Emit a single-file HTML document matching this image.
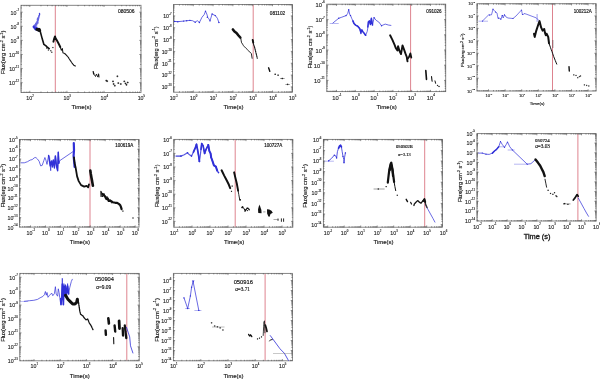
<!DOCTYPE html>
<html><head><meta charset="utf-8"><style>
html,body{margin:0;padding:0;background:#fff;overflow:hidden;width:600px;height:379px;}
svg{display:block;filter:blur(0.35px);}
.b{stroke:#222;stroke-width:0.15px;}
.t{stroke:#333;stroke-width:0.14px;}
.n{stroke:#111;stroke-width:0.15px;}
</style></head><body>
<svg width="600" height="379" viewBox="0 0 600 379" font-family="'Liberation Sans', sans-serif">
<rect width="600" height="379" fill="#fff"/>
<line x1="55.3" y1="5.3" x2="55.3" y2="92.5" stroke="#d05060" stroke-width="1.0" opacity="0.7"/>
<rect x="21" y="5.3" width="120" height="87.2" fill="none" stroke="#7a7a7a" stroke-width="0.9"/>
<path d="M21.57 92.8v-1.3M21.57 5v1.3M24.05 92.8v-1.3M24.05 5v1.3M26.2 92.8v-1.3M26.2 5v1.3M28.1 92.8v-1.3M28.1 5v1.3M29.8 92.8v-2.0M29.8 5v2.0M40.97 92.8v-1.3M40.97 5v1.3M47.5 92.8v-1.3M47.5 5v1.3M52.14 92.8v-1.3M52.14 5v1.3M55.73 92.8v-1.3M55.73 5v1.3M58.67 92.8v-1.3M58.67 5v1.3M61.15 92.8v-1.3M61.15 5v1.3M63.3 92.8v-1.3M63.3 5v1.3M65.2 92.8v-1.3M65.2 5v1.3M66.9 92.8v-2.0M66.9 5v2.0M78.07 92.8v-1.3M78.07 5v1.3M84.6 92.8v-1.3M84.6 5v1.3M89.24 92.8v-1.3M89.24 5v1.3M92.83 92.8v-1.3M92.83 5v1.3M95.77 92.8v-1.3M95.77 5v1.3M98.25 92.8v-1.3M98.25 5v1.3M100.4 92.8v-1.3M100.4 5v1.3M102.3 92.8v-1.3M102.3 5v1.3M104 92.8v-2.0M104 5v2.0M115.17 92.8v-1.3M115.17 5v1.3M121.7 92.8v-1.3M121.7 5v1.3M126.34 92.8v-1.3M126.34 5v1.3M129.93 92.8v-1.3M129.93 5v1.3M132.87 92.8v-1.3M132.87 5v1.3M135.35 92.8v-1.3M135.35 5v1.3M137.5 92.8v-1.3M137.5 5v1.3M139.4 92.8v-1.3M139.4 5v1.3M20.7 90.07h1.3M141.3 90.07h-1.3M20.7 88.31h1.3M141.3 88.31h-1.3M20.7 86.94h1.3M141.3 86.94h-1.3M20.7 85.83h1.3M141.3 85.83h-1.3M20.7 84.88h1.3M141.3 84.88h-1.3M20.7 84.07h1.3M141.3 84.07h-1.3M20.7 83.35h1.3M141.3 83.35h-1.3M20.7 82.7h2.0M141.3 82.7h-2.0M20.7 78.46h1.3M141.3 78.46h-1.3M20.7 75.97h1.3M141.3 75.97h-1.3M20.7 74.21h1.3M141.3 74.21h-1.3M20.7 72.84h1.3M141.3 72.84h-1.3M20.7 71.73h1.3M141.3 71.73h-1.3M20.7 70.78h1.3M141.3 70.78h-1.3M20.7 69.97h1.3M141.3 69.97h-1.3M20.7 69.25h1.3M141.3 69.25h-1.3M20.7 68.6h2.0M141.3 68.6h-2.0M20.7 64.36h1.3M141.3 64.36h-1.3M20.7 61.87h1.3M141.3 61.87h-1.3M20.7 60.11h1.3M141.3 60.11h-1.3M20.7 58.74h1.3M141.3 58.74h-1.3M20.7 57.63h1.3M141.3 57.63h-1.3M20.7 56.68h1.3M141.3 56.68h-1.3M20.7 55.87h1.3M141.3 55.87h-1.3M20.7 55.15h1.3M141.3 55.15h-1.3M20.7 54.5h2.0M141.3 54.5h-2.0M20.7 50.26h1.3M141.3 50.26h-1.3M20.7 47.77h1.3M141.3 47.77h-1.3M20.7 46.01h1.3M141.3 46.01h-1.3M20.7 44.64h1.3M141.3 44.64h-1.3M20.7 43.53h1.3M141.3 43.53h-1.3M20.7 42.58h1.3M141.3 42.58h-1.3M20.7 41.77h1.3M141.3 41.77h-1.3M20.7 41.05h1.3M141.3 41.05h-1.3M20.7 40.4h2.0M141.3 40.4h-2.0M20.7 36.16h1.3M141.3 36.16h-1.3M20.7 33.67h1.3M141.3 33.67h-1.3M20.7 31.91h1.3M141.3 31.91h-1.3M20.7 30.54h1.3M141.3 30.54h-1.3M20.7 29.43h1.3M141.3 29.43h-1.3M20.7 28.48h1.3M141.3 28.48h-1.3M20.7 27.67h1.3M141.3 27.67h-1.3M20.7 26.95h1.3M141.3 26.95h-1.3M20.7 26.3h2.0M141.3 26.3h-2.0M20.7 22.06h1.3M141.3 22.06h-1.3M20.7 19.57h1.3M141.3 19.57h-1.3M20.7 17.81h1.3M141.3 17.81h-1.3M20.7 16.44h1.3M141.3 16.44h-1.3M20.7 15.33h1.3M141.3 15.33h-1.3M20.7 14.38h1.3M141.3 14.38h-1.3M20.7 13.57h1.3M141.3 13.57h-1.3M20.7 12.85h1.3M141.3 12.85h-1.3M20.7 12.2h2.0M141.3 12.2h-2.0M20.7 7.96h1.3M141.3 7.96h-1.3" stroke="#5a5a5a" stroke-width="0.65" fill="none"/>
<g fill="#222" font-family="'Liberation Sans', sans-serif" class="t"><text x="30.1" y="100.19" text-anchor="middle" font-size="5.3">10<tspan font-size="2.86" dy="-3.29">2</tspan></text><text x="67.2" y="100.19" text-anchor="middle" font-size="5.3">10<tspan font-size="2.86" dy="-3.29">3</tspan></text><text x="104.3" y="100.19" text-anchor="middle" font-size="5.3">10<tspan font-size="2.86" dy="-3.29">4</tspan></text><text x="141.4" y="100.19" text-anchor="middle" font-size="5.3">10<tspan font-size="2.86" dy="-3.29">5</tspan></text><text x="19" y="14.58" text-anchor="end" font-size="5.3">10<tspan font-size="2.86" dy="-3.29">-7</tspan></text><text x="19" y="28.68" text-anchor="end" font-size="5.3">10<tspan font-size="2.86" dy="-3.29">-8</tspan></text><text x="19" y="42.78" text-anchor="end" font-size="5.3">10<tspan font-size="2.86" dy="-3.29">-9</tspan></text><text x="19" y="56.88" text-anchor="end" font-size="5.3">10<tspan font-size="2.86" dy="-3.29">-10</tspan></text><text x="19" y="70.98" text-anchor="end" font-size="5.3">10<tspan font-size="2.86" dy="-3.29">-11</tspan></text><text x="19" y="85.09" text-anchor="end" font-size="5.3">10<tspan font-size="2.86" dy="-3.29">-12</tspan></text></g>
<text class="b" transform="translate(5.1,52.3) rotate(-90)" text-anchor="middle" font-size="5.8" fill="#111" font-family="'Liberation Sans', sans-serif">Flux(erg cm<tspan font-size="3.71" dy="-2.2">-2</tspan><tspan dy="2.2"> s</tspan><tspan font-size="3.71" dy="-2.2">-1</tspan><tspan dy="2.2">)</tspan></text>
<text class="b" style="" x="81.5" y="108.8" text-anchor="middle" font-size="6" fill="#111" font-family="'Liberation Sans', sans-serif">Time(s)</text>
<text x="134.6" y="13" text-anchor="end" font-size="5.0" fill="#111" font-family="'Liberation Sans', sans-serif" class="n">080506</text>
<path d="M33.5 27.4 L34.6 25.2 L35.2 27.0 L35.9 23.4 L36.6 25.0 L37.1 21.5 L37.8 23.0 L37.5 19.1 L38.3 17.5 L38.0 20.5 L39.1 15.5" stroke="#3030d8" stroke-width="1.6" fill="none" stroke-linejoin="round" stroke-linecap="round" opacity="0.75"/><path d="M39.5 13.3 L39.6 14.8" stroke="#3030d8" stroke-width="1.3" fill="none" stroke-linejoin="round" stroke-linecap="round" opacity="0.9"/><path d="M33.6 26.5 L34.5 28.0 L35.5 29.5 L36.5 27.5 L37.6 30.2" stroke="#3030d8" stroke-width="2.0" fill="none" stroke-linejoin="round" stroke-linecap="round" opacity="1"/><path d="M36.8 29.5 L38.5 29.5 L39.8 30.5" stroke="#111" stroke-width="2.8" fill="none" stroke-linejoin="round" stroke-linecap="round" opacity="1"/><ellipse cx="38.9" cy="29.8" rx="1.9" ry="2.1" fill="#111"/><path d="M38.1 29.1 L40.2 31.2 L41.3 35.4 L42.3 39.1 L43.4 42.8 L43.9 44.4 L46.0 45.9 L47.6 47.5 L49.2 48.6" stroke="#111" stroke-width="1.6" fill="none" stroke-linejoin="round" stroke-linecap="round" opacity="1"/><path d="M46.0 48.0h1.3M46.6 47.4v1.3" stroke="#111" stroke-width="0.6" opacity="1"/><path d="M50.1 50.7h1.3M50.8 50.1v1.3" stroke="#111" stroke-width="0.6" opacity="1"/><path d="M51.1 52.3h1.3M51.8 51.6v1.3" stroke="#111" stroke-width="0.6" opacity="1"/><path d="M52.2 47.5h1.3M52.9 46.9v1.3" stroke="#111" stroke-width="0.6" opacity="1"/><path d="M47.8 50.0h1.3M48.4 49.4v1.3" stroke="#111" stroke-width="0.6" opacity="1"/><path d="M53.4 41.7 L54.2 38.5 L55.0 36.4 L55.5 38.0 L57.1 40.7 L58.7 43.8 L60.3 47.0" stroke="#111" stroke-width="1.9" fill="none" stroke-linejoin="round" stroke-linecap="round" opacity="1"/><path d="M60.3 47.0 L61.3 50.2 L62.4 48.6 L62.9 52.8 L64.5 53.3 L66.1 54.9 L67.7 56.5 L69.8 59.7 L71.9 62.8 L74.0 65.5 L75.4 66.0" stroke="#111" stroke-width="1.1" fill="none" stroke-linejoin="round" stroke-linecap="round" opacity="1" stroke-dasharray="1.6 0.7"/><path d="M93.4 72.0 L94.2 74.5 L95.5 76.5 L96.5 74.0 L97.8 77.0 L99.0 74.8" stroke="#111" stroke-width="0.9" fill="none" stroke-linejoin="round" stroke-linecap="round" opacity="1" stroke-dasharray="1.6 0.7"/><path d="M93.2 71.5 L93.6 74.0" stroke="#111" stroke-width="1.2" fill="none" stroke-linejoin="round" stroke-linecap="round" opacity="1"/><path d="M98.5 74.0 L99.0 77.0" stroke="#111" stroke-width="1.0" fill="none" stroke-linejoin="round" stroke-linecap="round" opacity="1"/><path d="M105.4 80.6h1.8M106.3 79.7v1.8" stroke="#111" stroke-width="0.75" opacity="1"/><path d="M106.3 81.2h1.8M107.2 80.3v1.8" stroke="#111" stroke-width="0.75" opacity="1"/><path d="M112.1 81.4h1.8M113.0 80.5v1.8" stroke="#111" stroke-width="0.75" opacity="1"/><path d="M112.7 84.0h1.8M113.6 83.1v1.8" stroke="#111" stroke-width="0.75" opacity="1"/><path d="M113.9 85.7h1.8M114.8 84.8v1.8" stroke="#111" stroke-width="0.75" opacity="1"/><path d="M116.5 76.3h1.8M117.4 75.4v1.8" stroke="#111" stroke-width="0.75" opacity="1"/><path d="M117.4 83.1h1.8M118.3 82.2v1.8" stroke="#111" stroke-width="0.75" opacity="1"/><path d="M119.9 84.0h1.8M120.8 83.1v1.8" stroke="#111" stroke-width="0.75" opacity="1"/><path d="M123.4 81.4h1.8M124.3 80.5v1.8" stroke="#111" stroke-width="0.75" opacity="1"/><path d="M124.6 83.5h1.8M125.5 82.6v1.8" stroke="#111" stroke-width="0.75" opacity="1"/><path d="M125.6 84.8h1.8M126.5 83.9v1.8" stroke="#111" stroke-width="0.75" opacity="1"/><path d="M126.8 82.5h1.8M127.7 81.6v1.8" stroke="#111" stroke-width="0.75" opacity="1"/>
<line x1="253.2" y1="4.5" x2="253.2" y2="92.2" stroke="#d05060" stroke-width="1.0" opacity="0.7"/>
<rect x="173.5" y="4.5" width="119" height="87.7" fill="none" stroke="#7a7a7a" stroke-width="0.9"/>
<path d="M179.46 92.5v-1.3M179.46 4.2v1.3M182.95 92.5v-1.3M182.95 4.2v1.3M185.42 92.5v-1.3M185.42 4.2v1.3M187.34 92.5v-1.3M187.34 4.2v1.3M188.91 92.5v-1.3M188.91 4.2v1.3M190.23 92.5v-1.3M190.23 4.2v1.3M191.38 92.5v-1.3M191.38 4.2v1.3M192.39 92.5v-1.3M192.39 4.2v1.3M193.3 92.5v-2.0M193.3 4.2v2.0M199.26 92.5v-1.3M199.26 4.2v1.3M202.75 92.5v-1.3M202.75 4.2v1.3M205.22 92.5v-1.3M205.22 4.2v1.3M207.14 92.5v-1.3M207.14 4.2v1.3M208.71 92.5v-1.3M208.71 4.2v1.3M210.03 92.5v-1.3M210.03 4.2v1.3M211.18 92.5v-1.3M211.18 4.2v1.3M212.19 92.5v-1.3M212.19 4.2v1.3M213.1 92.5v-2.0M213.1 4.2v2.0M219.06 92.5v-1.3M219.06 4.2v1.3M222.55 92.5v-1.3M222.55 4.2v1.3M225.02 92.5v-1.3M225.02 4.2v1.3M226.94 92.5v-1.3M226.94 4.2v1.3M228.51 92.5v-1.3M228.51 4.2v1.3M229.83 92.5v-1.3M229.83 4.2v1.3M230.98 92.5v-1.3M230.98 4.2v1.3M231.99 92.5v-1.3M231.99 4.2v1.3M232.9 92.5v-2.0M232.9 4.2v2.0M238.86 92.5v-1.3M238.86 4.2v1.3M242.35 92.5v-1.3M242.35 4.2v1.3M244.82 92.5v-1.3M244.82 4.2v1.3M246.74 92.5v-1.3M246.74 4.2v1.3M248.31 92.5v-1.3M248.31 4.2v1.3M249.63 92.5v-1.3M249.63 4.2v1.3M250.78 92.5v-1.3M250.78 4.2v1.3M251.79 92.5v-1.3M251.79 4.2v1.3M252.7 92.5v-2.0M252.7 4.2v2.0M258.66 92.5v-1.3M258.66 4.2v1.3M262.15 92.5v-1.3M262.15 4.2v1.3M264.62 92.5v-1.3M264.62 4.2v1.3M266.54 92.5v-1.3M266.54 4.2v1.3M268.11 92.5v-1.3M268.11 4.2v1.3M269.43 92.5v-1.3M269.43 4.2v1.3M270.58 92.5v-1.3M270.58 4.2v1.3M271.59 92.5v-1.3M271.59 4.2v1.3M272.5 92.5v-2.0M272.5 4.2v2.0M278.46 92.5v-1.3M278.46 4.2v1.3M281.95 92.5v-1.3M281.95 4.2v1.3M284.42 92.5v-1.3M284.42 4.2v1.3M286.34 92.5v-1.3M286.34 4.2v1.3M287.91 92.5v-1.3M287.91 4.2v1.3M289.23 92.5v-1.3M289.23 4.2v1.3M290.38 92.5v-1.3M290.38 4.2v1.3M291.39 92.5v-1.3M291.39 4.2v1.3M173.2 91.59h1.3M292.8 91.59h-1.3M173.2 90.44h1.3M292.8 90.44h-1.3M173.2 89.5h1.3M292.8 89.5h-1.3M173.2 88.71h1.3M292.8 88.71h-1.3M173.2 88.03h1.3M292.8 88.03h-1.3M173.2 87.42h1.3M292.8 87.42h-1.3M173.2 86.88h2.0M292.8 86.88h-2.0M173.2 83.32h1.3M292.8 83.32h-1.3M173.2 81.24h1.3M292.8 81.24h-1.3M173.2 79.76h1.3M292.8 79.76h-1.3M173.2 78.61h1.3M292.8 78.61h-1.3M173.2 77.67h1.3M292.8 77.67h-1.3M173.2 76.88h1.3M292.8 76.88h-1.3M173.2 76.2h1.3M292.8 76.2h-1.3M173.2 75.59h1.3M292.8 75.59h-1.3M173.2 75.05h2.0M292.8 75.05h-2.0M173.2 71.49h1.3M292.8 71.49h-1.3M173.2 69.41h1.3M292.8 69.41h-1.3M173.2 67.93h1.3M292.8 67.93h-1.3M173.2 66.78h1.3M292.8 66.78h-1.3M173.2 65.84h1.3M292.8 65.84h-1.3M173.2 65.05h1.3M292.8 65.05h-1.3M173.2 64.37h1.3M292.8 64.37h-1.3M173.2 63.76h1.3M292.8 63.76h-1.3M173.2 63.22h2.0M292.8 63.22h-2.0M173.2 59.66h1.3M292.8 59.66h-1.3M173.2 57.58h1.3M292.8 57.58h-1.3M173.2 56.1h1.3M292.8 56.1h-1.3M173.2 54.95h1.3M292.8 54.95h-1.3M173.2 54.01h1.3M292.8 54.01h-1.3M173.2 53.22h1.3M292.8 53.22h-1.3M173.2 52.54h1.3M292.8 52.54h-1.3M173.2 51.93h1.3M292.8 51.93h-1.3M173.2 51.39h2.0M292.8 51.39h-2.0M173.2 47.83h1.3M292.8 47.83h-1.3M173.2 45.75h1.3M292.8 45.75h-1.3M173.2 44.27h1.3M292.8 44.27h-1.3M173.2 43.12h1.3M292.8 43.12h-1.3M173.2 42.18h1.3M292.8 42.18h-1.3M173.2 41.39h1.3M292.8 41.39h-1.3M173.2 40.71h1.3M292.8 40.71h-1.3M173.2 40.1h1.3M292.8 40.1h-1.3M173.2 39.56h2.0M292.8 39.56h-2.0M173.2 36h1.3M292.8 36h-1.3M173.2 33.92h1.3M292.8 33.92h-1.3M173.2 32.44h1.3M292.8 32.44h-1.3M173.2 31.29h1.3M292.8 31.29h-1.3M173.2 30.35h1.3M292.8 30.35h-1.3M173.2 29.56h1.3M292.8 29.56h-1.3M173.2 28.88h1.3M292.8 28.88h-1.3M173.2 28.27h1.3M292.8 28.27h-1.3M173.2 27.73h2.0M292.8 27.73h-2.0M173.2 24.17h1.3M292.8 24.17h-1.3M173.2 22.09h1.3M292.8 22.09h-1.3M173.2 20.61h1.3M292.8 20.61h-1.3M173.2 19.46h1.3M292.8 19.46h-1.3M173.2 18.52h1.3M292.8 18.52h-1.3M173.2 17.73h1.3M292.8 17.73h-1.3M173.2 17.05h1.3M292.8 17.05h-1.3M173.2 16.44h1.3M292.8 16.44h-1.3M173.2 15.9h2.0M292.8 15.9h-2.0M173.2 12.34h1.3M292.8 12.34h-1.3M173.2 10.26h1.3M292.8 10.26h-1.3M173.2 8.78h1.3M292.8 8.78h-1.3M173.2 7.63h1.3M292.8 7.63h-1.3M173.2 6.69h1.3M292.8 6.69h-1.3M173.2 5.9h1.3M292.8 5.9h-1.3M173.2 5.22h1.3M292.8 5.22h-1.3" stroke="#5a5a5a" stroke-width="0.65" fill="none"/>
<g fill="#222" font-family="'Liberation Sans', sans-serif" class="t"><text x="173.8" y="99.74" text-anchor="middle" font-size="5.2">10<tspan font-size="2.81" dy="-3.22">-1</tspan></text><text x="193.6" y="99.74" text-anchor="middle" font-size="5.2">10<tspan font-size="2.81" dy="-3.22">0</tspan></text><text x="213.4" y="99.74" text-anchor="middle" font-size="5.2">10<tspan font-size="2.81" dy="-3.22">1</tspan></text><text x="233.2" y="99.74" text-anchor="middle" font-size="5.2">10<tspan font-size="2.81" dy="-3.22">2</tspan></text><text x="253" y="99.74" text-anchor="middle" font-size="5.2">10<tspan font-size="2.81" dy="-3.22">3</tspan></text><text x="272.8" y="99.74" text-anchor="middle" font-size="5.2">10<tspan font-size="2.81" dy="-3.22">4</tspan></text><text x="292.6" y="99.74" text-anchor="middle" font-size="5.2">10<tspan font-size="2.81" dy="-3.22">5</tspan></text><text x="171.5" y="18.24" text-anchor="end" font-size="5.2">10<tspan font-size="2.81" dy="-3.22">-7</tspan></text><text x="171.5" y="30.07" text-anchor="end" font-size="5.2">10<tspan font-size="2.81" dy="-3.22">-8</tspan></text><text x="171.5" y="41.9" text-anchor="end" font-size="5.2">10<tspan font-size="2.81" dy="-3.22">-9</tspan></text><text x="171.5" y="53.73" text-anchor="end" font-size="5.2">10<tspan font-size="2.81" dy="-3.22">-10</tspan></text><text x="171.5" y="65.56" text-anchor="end" font-size="5.2">10<tspan font-size="2.81" dy="-3.22">-11</tspan></text><text x="171.5" y="77.39" text-anchor="end" font-size="5.2">10<tspan font-size="2.81" dy="-3.22">-12</tspan></text><text x="171.5" y="89.22" text-anchor="end" font-size="5.2">10<tspan font-size="2.81" dy="-3.22">-13</tspan></text></g>
<text class="b" transform="translate(157.6,47.75) rotate(-90)" text-anchor="middle" font-size="5.7" fill="#111" font-family="'Liberation Sans', sans-serif">Flux(erg cm<tspan font-size="3.65" dy="-2.17">-2</tspan><tspan dy="2.17"> s</tspan><tspan font-size="3.65" dy="-2.17">-1</tspan><tspan dy="2.17">)</tspan></text>
<text class="b" style="" x="233.5" y="108.5" text-anchor="middle" font-size="6" fill="#111" font-family="'Liberation Sans', sans-serif">Time(s)</text>
<text x="285.1" y="14.8" text-anchor="end" font-size="4.7" fill="#111" font-family="'Liberation Sans', sans-serif" class="n">081102</text>
<path d="M174.6 21.4 L177.8 21.7 L183.6 21.1 L186.7 20.7 L189.9 20.4 L192.5 20.7 L195.2 22.2 L197.3 20.7 L199.4 22.5 L202.0 17.2 L204.2 14.6 L205.5 11.2 L206.8 14.0 L207.9 17.7 L208.9 18.8 L210.0 20.9 L212.1 14.0 L215.3 15.6 L217.4 18.3 L218.9 22.5" stroke="#3030d8" stroke-width="0.9" fill="none" stroke-linejoin="round" stroke-linecap="round" opacity="0.8"/><circle cx="174.6" cy="21.4" r="0.7" fill="#3030d8" opacity="1"/><circle cx="177.8" cy="21.7" r="0.7" fill="#3030d8" opacity="1"/><circle cx="183.6" cy="21.1" r="0.7" fill="#3030d8" opacity="1"/><circle cx="186.7" cy="20.7" r="0.7" fill="#3030d8" opacity="1"/><circle cx="189.9" cy="20.4" r="0.7" fill="#3030d8" opacity="1"/><circle cx="195.2" cy="22.2" r="0.7" fill="#3030d8" opacity="1"/><circle cx="199.4" cy="22.5" r="0.7" fill="#3030d8" opacity="1"/><circle cx="205.5" cy="11.2" r="0.7" fill="#3030d8" opacity="1"/><circle cx="207.3" cy="17.2" r="0.7" fill="#3030d8" opacity="1"/><circle cx="210.0" cy="20.9" r="0.7" fill="#3030d8" opacity="1"/><circle cx="212.1" cy="14.0" r="0.7" fill="#3030d8" opacity="1"/><circle cx="215.3" cy="15.6" r="0.7" fill="#3030d8" opacity="1"/><circle cx="218.9" cy="22.5" r="0.7" fill="#3030d8" opacity="1"/><path d="M173.8 21.4H180.0" stroke="#3030d8" stroke-width="0.5" opacity="0.6"/><path d="M232.9 29.5 L234.5 31.5 L236.5 33.0 L238.5 35.5 L240.3 37.5" stroke="#111" stroke-width="2.6" fill="none" stroke-linejoin="round" stroke-linecap="round" opacity="1"/><path d="M240.8 38.5 L241.5 42.4 L243.5 45.7 L246.1 48.4 L248.8 51.0 L251.4 53.7 L252.1 58.3" stroke="#111" stroke-width="0.9" fill="none" stroke-linejoin="round" stroke-linecap="round" opacity="1" stroke-dasharray="1.6 0.7"/><path d="M252.7 39.8 L253.4 43.8 L254.7 47.7 L256.0 53.0 L257.3 58.3" stroke="#111" stroke-width="1.1" fill="none" stroke-linejoin="round" stroke-linecap="round" opacity="1" stroke-dasharray="1.6 0.7"/><path d="M252.6 39.8 L253.3 42.5" stroke="#111" stroke-width="1.8" fill="none" stroke-linejoin="round" stroke-linecap="round" opacity="1"/><path d="M268.6 67.8 L269.2 69.5 L269.8 71.4" stroke="#111" stroke-width="1.4" fill="none" stroke-linejoin="round" stroke-linecap="round" opacity="1"/><path d="M274.5 74.3h1.4M275.2 73.6v1.4" stroke="#111" stroke-width="0.8" opacity="1"/><path d="M277.4 75.2h1.4M278.1 74.5v1.4" stroke="#111" stroke-width="0.8" opacity="1"/><path d="M280.0 78.5H284.7" stroke="#111" stroke-width="0.5" opacity="0.8"/><path d="M281.5 78.5h1.6M282.3 77.7v1.6" stroke="#111" stroke-width="0.7" opacity="1"/><path d="M285.3 84.4H290.0" stroke="#111" stroke-width="0.5" opacity="0.8"/><path d="M286.8 84.4h1.6M287.6 83.6v1.6" stroke="#111" stroke-width="0.7" opacity="1"/>
<line x1="410.6" y1="4.2" x2="410.6" y2="91.6" stroke="#d05060" stroke-width="1.0" opacity="0.7"/>
<rect x="326.8" y="4.2" width="118.9" height="87.4" fill="none" stroke="#7a7a7a" stroke-width="0.9"/>
<path d="M329.02 91.9v-1.3M329.02 3.9v1.3M330.84 91.9v-1.3M330.84 3.9v1.3M332.33 91.9v-1.3M332.33 3.9v1.3M333.59 91.9v-1.3M333.59 3.9v1.3M334.68 91.9v-1.3M334.68 3.9v1.3M335.64 91.9v-1.3M335.64 3.9v1.3M336.5 91.9v-2.0M336.5 3.9v2.0M342.16 91.9v-1.3M342.16 3.9v1.3M345.47 91.9v-1.3M345.47 3.9v1.3M347.82 91.9v-1.3M347.82 3.9v1.3M349.64 91.9v-1.3M349.64 3.9v1.3M351.13 91.9v-1.3M351.13 3.9v1.3M352.39 91.9v-1.3M352.39 3.9v1.3M353.48 91.9v-1.3M353.48 3.9v1.3M354.44 91.9v-1.3M354.44 3.9v1.3M355.3 91.9v-2.0M355.3 3.9v2.0M360.96 91.9v-1.3M360.96 3.9v1.3M364.27 91.9v-1.3M364.27 3.9v1.3M366.62 91.9v-1.3M366.62 3.9v1.3M368.44 91.9v-1.3M368.44 3.9v1.3M369.93 91.9v-1.3M369.93 3.9v1.3M371.19 91.9v-1.3M371.19 3.9v1.3M372.28 91.9v-1.3M372.28 3.9v1.3M373.24 91.9v-1.3M373.24 3.9v1.3M374.1 91.9v-2.0M374.1 3.9v2.0M379.76 91.9v-1.3M379.76 3.9v1.3M383.07 91.9v-1.3M383.07 3.9v1.3M385.42 91.9v-1.3M385.42 3.9v1.3M387.24 91.9v-1.3M387.24 3.9v1.3M388.73 91.9v-1.3M388.73 3.9v1.3M389.99 91.9v-1.3M389.99 3.9v1.3M391.08 91.9v-1.3M391.08 3.9v1.3M392.04 91.9v-1.3M392.04 3.9v1.3M392.9 91.9v-2.0M392.9 3.9v2.0M398.56 91.9v-1.3M398.56 3.9v1.3M401.87 91.9v-1.3M401.87 3.9v1.3M404.22 91.9v-1.3M404.22 3.9v1.3M406.04 91.9v-1.3M406.04 3.9v1.3M407.53 91.9v-1.3M407.53 3.9v1.3M408.79 91.9v-1.3M408.79 3.9v1.3M409.88 91.9v-1.3M409.88 3.9v1.3M410.84 91.9v-1.3M410.84 3.9v1.3M411.7 91.9v-2.0M411.7 3.9v2.0M417.36 91.9v-1.3M417.36 3.9v1.3M420.67 91.9v-1.3M420.67 3.9v1.3M423.02 91.9v-1.3M423.02 3.9v1.3M424.84 91.9v-1.3M424.84 3.9v1.3M426.33 91.9v-1.3M426.33 3.9v1.3M427.59 91.9v-1.3M427.59 3.9v1.3M428.68 91.9v-1.3M428.68 3.9v1.3M429.64 91.9v-1.3M429.64 3.9v1.3M430.5 91.9v-2.0M430.5 3.9v2.0M436.16 91.9v-1.3M436.16 3.9v1.3M439.47 91.9v-1.3M439.47 3.9v1.3M441.82 91.9v-1.3M441.82 3.9v1.3M443.64 91.9v-1.3M443.64 3.9v1.3M445.13 91.9v-1.3M445.13 3.9v1.3M326.5 91.02h1.3M446 91.02h-1.3M326.5 88.35h1.3M446 88.35h-1.3M326.5 86.45h1.3M446 86.45h-1.3M326.5 84.98h1.3M446 84.98h-1.3M326.5 83.77h1.3M446 83.77h-1.3M326.5 82.75h1.3M446 82.75h-1.3M326.5 81.87h1.3M446 81.87h-1.3M326.5 81.1h1.3M446 81.1h-1.3M326.5 80.4h2.0M446 80.4h-2.0M326.5 75.82h1.3M446 75.82h-1.3M326.5 73.15h1.3M446 73.15h-1.3M326.5 71.25h1.3M446 71.25h-1.3M326.5 69.78h1.3M446 69.78h-1.3M326.5 68.57h1.3M446 68.57h-1.3M326.5 67.55h1.3M446 67.55h-1.3M326.5 66.67h1.3M446 66.67h-1.3M326.5 65.9h1.3M446 65.9h-1.3M326.5 65.2h2.0M446 65.2h-2.0M326.5 60.62h1.3M446 60.62h-1.3M326.5 57.95h1.3M446 57.95h-1.3M326.5 56.05h1.3M446 56.05h-1.3M326.5 54.58h1.3M446 54.58h-1.3M326.5 53.37h1.3M446 53.37h-1.3M326.5 52.35h1.3M446 52.35h-1.3M326.5 51.47h1.3M446 51.47h-1.3M326.5 50.7h1.3M446 50.7h-1.3M326.5 50h2.0M446 50h-2.0M326.5 45.42h1.3M446 45.42h-1.3M326.5 42.75h1.3M446 42.75h-1.3M326.5 40.85h1.3M446 40.85h-1.3M326.5 39.38h1.3M446 39.38h-1.3M326.5 38.17h1.3M446 38.17h-1.3M326.5 37.15h1.3M446 37.15h-1.3M326.5 36.27h1.3M446 36.27h-1.3M326.5 35.5h1.3M446 35.5h-1.3M326.5 34.8h2.0M446 34.8h-2.0M326.5 30.22h1.3M446 30.22h-1.3M326.5 27.55h1.3M446 27.55h-1.3M326.5 25.65h1.3M446 25.65h-1.3M326.5 24.18h1.3M446 24.18h-1.3M326.5 22.97h1.3M446 22.97h-1.3M326.5 21.95h1.3M446 21.95h-1.3M326.5 21.07h1.3M446 21.07h-1.3M326.5 20.3h1.3M446 20.3h-1.3M326.5 19.6h2.0M446 19.6h-2.0M326.5 15.02h1.3M446 15.02h-1.3M326.5 12.35h1.3M446 12.35h-1.3M326.5 10.45h1.3M446 10.45h-1.3M326.5 8.98h1.3M446 8.98h-1.3M326.5 7.77h1.3M446 7.77h-1.3M326.5 6.75h1.3M446 6.75h-1.3M326.5 5.87h1.3M446 5.87h-1.3M326.5 5.1h1.3M446 5.1h-1.3" stroke="#5a5a5a" stroke-width="0.65" fill="none"/>
<g fill="#222" font-family="'Liberation Sans', sans-serif" class="t"><text x="336.8" y="100.01" text-anchor="middle" font-size="5.8">10<tspan font-size="3.13" dy="-3.6">-1</tspan></text><text x="355.6" y="100.01" text-anchor="middle" font-size="5.8">10<tspan font-size="3.13" dy="-3.6">0</tspan></text><text x="374.4" y="100.01" text-anchor="middle" font-size="5.8">10<tspan font-size="3.13" dy="-3.6">1</tspan></text><text x="393.2" y="100.01" text-anchor="middle" font-size="5.8">10<tspan font-size="3.13" dy="-3.6">2</tspan></text><text x="412" y="100.01" text-anchor="middle" font-size="5.8">10<tspan font-size="3.13" dy="-3.6">3</tspan></text><text x="430.8" y="100.01" text-anchor="middle" font-size="5.8">10<tspan font-size="3.13" dy="-3.6">4</tspan></text><text x="324.8" y="7.01" text-anchor="end" font-size="5.8">10<tspan font-size="3.13" dy="-3.6">-6</tspan></text><text x="324.8" y="22.21" text-anchor="end" font-size="5.8">10<tspan font-size="3.13" dy="-3.6">-7</tspan></text><text x="324.8" y="37.41" text-anchor="end" font-size="5.8">10<tspan font-size="3.13" dy="-3.6">-8</tspan></text><text x="324.8" y="52.61" text-anchor="end" font-size="5.8">10<tspan font-size="3.13" dy="-3.6">-9</tspan></text><text x="324.8" y="67.81" text-anchor="end" font-size="5.8">10<tspan font-size="3.13" dy="-3.6">-10</tspan></text><text x="324.8" y="83.01" text-anchor="end" font-size="5.8">10<tspan font-size="3.13" dy="-3.6">-11</tspan></text></g>
<text class="b" transform="translate(312.2,47) rotate(-90)" text-anchor="middle" font-size="5.7" fill="#111" font-family="'Liberation Sans', sans-serif">Flux(erg cm<tspan font-size="3.65" dy="-2.17">-2</tspan><tspan dy="2.17"> s</tspan><tspan font-size="3.65" dy="-2.17">-1</tspan><tspan dy="2.17">)</tspan></text>
<text class="b" style="" x="386.6" y="108.8" text-anchor="middle" font-size="6" fill="#111" font-family="'Liberation Sans', sans-serif">Time(s)</text>
<text x="441.7" y="12.7" text-anchor="end" font-size="4.6" fill="#111" font-family="'Liberation Sans', sans-serif" class="n">091026</text>
<path d="M329.7 23.5H338.7" stroke="#3030d8" stroke-width="0.5" opacity="0.7"/><path d="M332.9 23.0 L338.7 18.3 L341.8 17.2 L346.1 15.6 L347.7 13.5 L348.7 9.8 L349.8 14.6 L350.8 16.1 L351.9 18.8 L352.9 20.9 L354.0 23.5 L355.6 25.1 L357.7 26.2 L358.7 26.7 L359.8 28.8 L360.9 32.5 L361.9 29.9 L363.0 32.0 L364.0 33.0 L365.6 35.2 L367.2 31.5 L368.3 25.1 L369.3 20.9 L370.4 23.5 L371.4 18.3 L372.5 25.1 L374.1 17.7 L376.2 20.4 L378.8 22.0 L381.5 25.7 L385.2 24.1 L388.7 25.1 L390.9 25.4" stroke="#3030d8" stroke-width="0.9" fill="none" stroke-linejoin="round" stroke-linecap="round" opacity="0.8"/><path d="M352.9 20.9 L354.0 23.5 L355.6 25.1 L357.7 26.2 L359.8 28.8 L360.9 32.5 L361.9 29.9 L363.0 32.0 L364.0 33.0 L365.6 35.2" stroke="#3030d8" stroke-width="1.6" fill="none" stroke-linejoin="round" stroke-linecap="round" opacity="1"/><path d="M367.8 27.0 L368.3 22.0 L369.3 20.9 L370.4 24.5 L371.4 18.3 L372.5 25.1" stroke="#3030d8" stroke-width="1.5" fill="none" stroke-linejoin="round" stroke-linecap="round" opacity="1"/><circle cx="338.7" cy="18.3" r="0.7" fill="#3030d8" opacity="1"/><circle cx="346.1" cy="15.6" r="0.7" fill="#3030d8" opacity="1"/><circle cx="348.7" cy="9.8" r="0.7" fill="#3030d8" opacity="1"/><circle cx="350.5" cy="15.5" r="0.7" fill="#3030d8" opacity="1"/><circle cx="360.9" cy="33.5" r="0.7" fill="#3030d8" opacity="1"/><circle cx="365.6" cy="35.2" r="0.7" fill="#3030d8" opacity="1"/><circle cx="374.1" cy="17.7" r="0.7" fill="#3030d8" opacity="1"/><circle cx="381.5" cy="25.7" r="0.7" fill="#3030d8" opacity="1"/><path d="M390.1 35.3 L392.3 39.6 L394.5 44.7 L395.9 48.3 L397.4 50.5 L398.1 46.2 L399.6 51.2 L401.0 54.1 L402.5 45.4 L403.9 49.1 L405.4 53.4 L406.8 57.0 L407.5 61.4" stroke="#111" stroke-width="1.9" fill="none" stroke-linejoin="round" stroke-linecap="round" opacity="1"/><path d="M407.5 59.0 L409.0 57.0 L410.4 53.4 L411.3 57.5" stroke="#111" stroke-width="1.8" fill="none" stroke-linejoin="round" stroke-linecap="round" opacity="1"/><path d="M425.8 70.6 L426.5 79.4" stroke="#111" stroke-width="1.6" fill="none" stroke-linejoin="round" stroke-linecap="round" opacity="1"/><path d="M431.5 76.5 L432.1 81.3" stroke="#111" stroke-width="1.1" fill="none" stroke-linejoin="round" stroke-linecap="round" opacity="1"/><path d="M435.0 80.9 L435.6 83.3" stroke="#111" stroke-width="1.0" fill="none" stroke-linejoin="round" stroke-linecap="round" opacity="1"/><path d="M436.9 85.5h1.3M437.5 84.8v1.3" stroke="#111" stroke-width="0.7" opacity="1"/><path d="M438.4 86.5h1.3M439.0 85.8v1.3" stroke="#111" stroke-width="0.7" opacity="1"/>
<line x1="552.5" y1="3.7" x2="552.5" y2="91" stroke="#d05060" stroke-width="1.0" opacity="0.7"/>
<rect x="477" y="3.7" width="119.1" height="87.3" fill="none" stroke="#7a7a7a" stroke-width="0.9"/>
<path d="M479.82 91.3v-1.3M479.82 3.4v1.3M481.89 91.3v-1.3M481.89 3.4v1.3M483.5 91.3v-1.3M483.5 3.4v1.3M484.82 91.3v-1.3M484.82 3.4v1.3M485.93 91.3v-1.3M485.93 3.4v1.3M486.89 91.3v-1.3M486.89 3.4v1.3M487.74 91.3v-1.3M487.74 3.4v1.3M488.5 91.3v-2.0M488.5 3.4v2.0M493.5 91.3v-1.3M493.5 3.4v1.3M496.42 91.3v-1.3M496.42 3.4v1.3M498.49 91.3v-1.3M498.49 3.4v1.3M500.1 91.3v-1.3M500.1 3.4v1.3M501.42 91.3v-1.3M501.42 3.4v1.3M502.53 91.3v-1.3M502.53 3.4v1.3M503.49 91.3v-1.3M503.49 3.4v1.3M504.34 91.3v-1.3M504.34 3.4v1.3M505.1 91.3v-2.0M505.1 3.4v2.0M510.1 91.3v-1.3M510.1 3.4v1.3M513.02 91.3v-1.3M513.02 3.4v1.3M515.09 91.3v-1.3M515.09 3.4v1.3M516.7 91.3v-1.3M516.7 3.4v1.3M518.02 91.3v-1.3M518.02 3.4v1.3M519.13 91.3v-1.3M519.13 3.4v1.3M520.09 91.3v-1.3M520.09 3.4v1.3M520.94 91.3v-1.3M520.94 3.4v1.3M521.7 91.3v-2.0M521.7 3.4v2.0M526.7 91.3v-1.3M526.7 3.4v1.3M529.62 91.3v-1.3M529.62 3.4v1.3M531.69 91.3v-1.3M531.69 3.4v1.3M533.3 91.3v-1.3M533.3 3.4v1.3M534.62 91.3v-1.3M534.62 3.4v1.3M535.73 91.3v-1.3M535.73 3.4v1.3M536.69 91.3v-1.3M536.69 3.4v1.3M537.54 91.3v-1.3M537.54 3.4v1.3M538.3 91.3v-2.0M538.3 3.4v2.0M543.3 91.3v-1.3M543.3 3.4v1.3M546.22 91.3v-1.3M546.22 3.4v1.3M548.29 91.3v-1.3M548.29 3.4v1.3M549.9 91.3v-1.3M549.9 3.4v1.3M551.22 91.3v-1.3M551.22 3.4v1.3M552.33 91.3v-1.3M552.33 3.4v1.3M553.29 91.3v-1.3M553.29 3.4v1.3M554.14 91.3v-1.3M554.14 3.4v1.3M554.9 91.3v-2.0M554.9 3.4v2.0M559.9 91.3v-1.3M559.9 3.4v1.3M562.82 91.3v-1.3M562.82 3.4v1.3M564.89 91.3v-1.3M564.89 3.4v1.3M566.5 91.3v-1.3M566.5 3.4v1.3M567.82 91.3v-1.3M567.82 3.4v1.3M568.93 91.3v-1.3M568.93 3.4v1.3M569.89 91.3v-1.3M569.89 3.4v1.3M570.74 91.3v-1.3M570.74 3.4v1.3M571.5 91.3v-2.0M571.5 3.4v2.0M576.5 91.3v-1.3M576.5 3.4v1.3M579.42 91.3v-1.3M579.42 3.4v1.3M581.49 91.3v-1.3M581.49 3.4v1.3M583.1 91.3v-1.3M583.1 3.4v1.3M584.42 91.3v-1.3M584.42 3.4v1.3M585.53 91.3v-1.3M585.53 3.4v1.3M586.49 91.3v-1.3M586.49 3.4v1.3M587.34 91.3v-1.3M587.34 3.4v1.3M588.1 91.3v-2.0M588.1 3.4v2.0M593.1 91.3v-1.3M593.1 3.4v1.3M476.7 90.65h2.0M596.4 90.65h-2.0M476.7 86.9h1.3M596.4 86.9h-1.3M476.7 84.71h1.3M596.4 84.71h-1.3M476.7 83.15h1.3M596.4 83.15h-1.3M476.7 81.95h1.3M596.4 81.95h-1.3M476.7 80.96h1.3M596.4 80.96h-1.3M476.7 80.13h1.3M596.4 80.13h-1.3M476.7 79.41h1.3M596.4 79.41h-1.3M476.7 78.77h1.3M596.4 78.77h-1.3M476.7 78.2h2.0M596.4 78.2h-2.0M476.7 74.45h1.3M596.4 74.45h-1.3M476.7 72.26h1.3M596.4 72.26h-1.3M476.7 70.7h1.3M596.4 70.7h-1.3M476.7 69.5h1.3M596.4 69.5h-1.3M476.7 68.51h1.3M596.4 68.51h-1.3M476.7 67.68h1.3M596.4 67.68h-1.3M476.7 66.96h1.3M596.4 66.96h-1.3M476.7 66.32h1.3M596.4 66.32h-1.3M476.7 65.75h2.0M596.4 65.75h-2.0M476.7 62h1.3M596.4 62h-1.3M476.7 59.81h1.3M596.4 59.81h-1.3M476.7 58.25h1.3M596.4 58.25h-1.3M476.7 57.05h1.3M596.4 57.05h-1.3M476.7 56.06h1.3M596.4 56.06h-1.3M476.7 55.23h1.3M596.4 55.23h-1.3M476.7 54.51h1.3M596.4 54.51h-1.3M476.7 53.87h1.3M596.4 53.87h-1.3M476.7 53.3h2.0M596.4 53.3h-2.0M476.7 49.55h1.3M596.4 49.55h-1.3M476.7 47.36h1.3M596.4 47.36h-1.3M476.7 45.8h1.3M596.4 45.8h-1.3M476.7 44.6h1.3M596.4 44.6h-1.3M476.7 43.61h1.3M596.4 43.61h-1.3M476.7 42.78h1.3M596.4 42.78h-1.3M476.7 42.06h1.3M596.4 42.06h-1.3M476.7 41.42h1.3M596.4 41.42h-1.3M476.7 40.85h2.0M596.4 40.85h-2.0M476.7 37.1h1.3M596.4 37.1h-1.3M476.7 34.91h1.3M596.4 34.91h-1.3M476.7 33.35h1.3M596.4 33.35h-1.3M476.7 32.15h1.3M596.4 32.15h-1.3M476.7 31.16h1.3M596.4 31.16h-1.3M476.7 30.33h1.3M596.4 30.33h-1.3M476.7 29.61h1.3M596.4 29.61h-1.3M476.7 28.97h1.3M596.4 28.97h-1.3M476.7 28.4h2.0M596.4 28.4h-2.0M476.7 24.65h1.3M596.4 24.65h-1.3M476.7 22.46h1.3M596.4 22.46h-1.3M476.7 20.9h1.3M596.4 20.9h-1.3M476.7 19.7h1.3M596.4 19.7h-1.3M476.7 18.71h1.3M596.4 18.71h-1.3M476.7 17.88h1.3M596.4 17.88h-1.3M476.7 17.16h1.3M596.4 17.16h-1.3M476.7 16.52h1.3M596.4 16.52h-1.3M476.7 15.95h2.0M596.4 15.95h-2.0M476.7 12.2h1.3M596.4 12.2h-1.3M476.7 10.01h1.3M596.4 10.01h-1.3M476.7 8.45h1.3M596.4 8.45h-1.3M476.7 7.25h1.3M596.4 7.25h-1.3M476.7 6.26h1.3M596.4 6.26h-1.3M476.7 5.43h1.3M596.4 5.43h-1.3M476.7 4.71h1.3M596.4 4.71h-1.3M476.7 4.07h1.3M596.4 4.07h-1.3" stroke="#5a5a5a" stroke-width="0.65" fill="none"/>
<g fill="#222" font-family="'Liberation Sans', sans-serif" class="t"><text x="488.8" y="97.23" text-anchor="middle" font-size="4.3">10<tspan font-size="2.32" dy="-2.67">-1</tspan></text><text x="505.4" y="97.23" text-anchor="middle" font-size="4.3">10<tspan font-size="2.32" dy="-2.67">0</tspan></text><text x="522" y="97.23" text-anchor="middle" font-size="4.3">10<tspan font-size="2.32" dy="-2.67">1</tspan></text><text x="538.6" y="97.23" text-anchor="middle" font-size="4.3">10<tspan font-size="2.32" dy="-2.67">2</tspan></text><text x="555.2" y="97.23" text-anchor="middle" font-size="4.3">10<tspan font-size="2.32" dy="-2.67">3</tspan></text><text x="571.8" y="97.23" text-anchor="middle" font-size="4.3">10<tspan font-size="2.32" dy="-2.67">4</tspan></text><text x="588.4" y="97.23" text-anchor="middle" font-size="4.3">10<tspan font-size="2.32" dy="-2.67">5</tspan></text><text x="475" y="5.44" text-anchor="end" font-size="4.3">10<tspan font-size="2.32" dy="-2.67">-6</tspan></text><text x="475" y="17.88" text-anchor="end" font-size="4.3">10<tspan font-size="2.32" dy="-2.67">-7</tspan></text><text x="475" y="30.33" text-anchor="end" font-size="4.3">10<tspan font-size="2.32" dy="-2.67">-8</tspan></text><text x="475" y="42.78" text-anchor="end" font-size="4.3">10<tspan font-size="2.32" dy="-2.67">-9</tspan></text><text x="475" y="55.23" text-anchor="end" font-size="4.3">10<tspan font-size="2.32" dy="-2.67">-10</tspan></text><text x="475" y="67.69" text-anchor="end" font-size="4.3">10<tspan font-size="2.32" dy="-2.67">-11</tspan></text><text x="475" y="80.13" text-anchor="end" font-size="4.3">10<tspan font-size="2.32" dy="-2.67">-12</tspan></text><text x="475" y="92.58" text-anchor="end" font-size="4.3">10<tspan font-size="2.32" dy="-2.67">-13</tspan></text></g>
<text class="b" transform="translate(464.4,50.2) rotate(-90)" text-anchor="middle" font-size="4.4" fill="#111" font-family="'Liberation Sans', sans-serif">Flux(erg cm<tspan font-size="2.82" dy="-1.67">-2</tspan><tspan dy="1.67"> s</tspan><tspan font-size="2.82" dy="-1.67">-1</tspan><tspan dy="1.67">)</tspan></text>
<text class="b" style="" x="537.2" y="104.5" text-anchor="middle" font-size="4.4" fill="#111" font-family="'Liberation Sans', sans-serif">Time(s)</text>
<text x="591.7" y="12.7" text-anchor="end" font-size="4.5" fill="#111" font-family="'Liberation Sans', sans-serif" class="n">100212A</text>
<path d="M478.5 21.2H488.0" stroke="#3030d8" stroke-width="0.5" opacity="0.7"/><path d="M482.5 21.0 L488.5 15.0 L491.5 14.8 L493.0 9.2 L495.0 11.5 L497.0 13.0 L498.0 18.5 L499.5 18.0 L501.0 19.5 L502.2 15.0 L503.2 18.0 L504.5 14.5 L506.0 17.0 L508.0 18.0 L513.0 18.5 L516.0 16.0 L521.5 10.0 L522.5 15.0 L524.0 13.5 L526.0 14.0 L536.3 17.9 L538.7 20.3" stroke="#3030d8" stroke-width="0.8" fill="none" stroke-linejoin="round" stroke-linecap="round" opacity="0.8"/><circle cx="482.5" cy="21.0" r="0.6" fill="#3030d8" opacity="1"/><circle cx="489.5" cy="15.0" r="0.6" fill="#3030d8" opacity="1"/><circle cx="493.0" cy="9.2" r="0.6" fill="#3030d8" opacity="1"/><circle cx="495.5" cy="12.0" r="0.6" fill="#3030d8" opacity="1"/><circle cx="498.5" cy="18.0" r="0.6" fill="#3030d8" opacity="1"/><circle cx="500.5" cy="19.0" r="0.6" fill="#3030d8" opacity="1"/><circle cx="502.5" cy="15.5" r="0.6" fill="#3030d8" opacity="1"/><circle cx="504.5" cy="15.0" r="0.6" fill="#3030d8" opacity="1"/><circle cx="513.0" cy="18.5" r="0.6" fill="#3030d8" opacity="1"/><circle cx="521.5" cy="10.0" r="0.6" fill="#3030d8" opacity="1"/><circle cx="522.8" cy="14.5" r="0.6" fill="#3030d8" opacity="1"/><path d="M537.1 14.0V21.9" stroke="#3030d8" stroke-width="0.6" opacity="0.8"/><path d="M534.0 33.7 L534.7 36.9 L536.3 30.6 L537.9 25.8 L539.5 21.1 L540.3 24.2 L541.1 27.4 L542.6 30.6 L544.2 29.0 L545.0 32.9 L545.8 35.3 L546.6 33.7 L548.2 36.9 L549.0 43.2" stroke="#111" stroke-width="2.0" fill="none" stroke-linejoin="round" stroke-linecap="round" opacity="1"/><path d="M549.0 43.2 L550.6 47.9 L552.1 51.9 L553.7 56.6 L555.3 60.6 L556.9 64.5" stroke="#111" stroke-width="1.0" fill="none" stroke-linejoin="round" stroke-linecap="round" opacity="1" stroke-dasharray="1.6 0.7"/><path d="M552.9 40.0V48.0" stroke="#111" stroke-width="0.6" opacity="0.7"/><path d="M569.0 66.6 L569.3 71.0" stroke="#111" stroke-width="1.4" fill="none" stroke-linejoin="round" stroke-linecap="round" opacity="1"/><path d="M573.1 74.9h1.3M573.8 74.2v1.3" stroke="#111" stroke-width="0.6" opacity="1"/><path d="M575.4 75.5h1.3M576.0 74.8v1.3" stroke="#111" stroke-width="0.6" opacity="1"/><path d="M577.1 77.7h1.3M577.7 77.0v1.3" stroke="#111" stroke-width="0.6" opacity="1"/><path d="M578.8 76.6h1.3M579.4 75.9v1.3" stroke="#111" stroke-width="0.6" opacity="1"/><path d="M579.9 76.0h1.3M580.5 75.3v1.3" stroke="#111" stroke-width="0.6" opacity="1"/><path d="M583.8 84.9h1.3M584.4 84.2v1.3" stroke="#111" stroke-width="0.6" opacity="1"/><path d="M586.0 85.4h1.3M586.6 84.8v1.3" stroke="#111" stroke-width="0.6" opacity="1"/><path d="M588.1 86.0h1.3M588.8 85.3v1.3" stroke="#111" stroke-width="0.6" opacity="1"/>
<line x1="90" y1="139.5" x2="90" y2="227.1" stroke="#d05060" stroke-width="1.0" opacity="0.7"/>
<rect x="19.5" y="139.5" width="119.5" height="87.6" fill="none" stroke="#7a7a7a" stroke-width="0.9"/>
<path d="M20.05 227.4v-1.3M20.05 139.2v1.3M22.68 227.4v-1.3M22.68 139.2v1.3M24.55 227.4v-1.3M24.55 139.2v1.3M26 227.4v-1.3M26 139.2v1.3M27.18 227.4v-1.3M27.18 139.2v1.3M28.18 227.4v-1.3M28.18 139.2v1.3M29.05 227.4v-1.3M29.05 139.2v1.3M29.82 227.4v-1.3M29.82 139.2v1.3M30.5 227.4v-2.0M30.5 139.2v2.0M35 227.4v-1.3M35 139.2v1.3M37.63 227.4v-1.3M37.63 139.2v1.3M39.5 227.4v-1.3M39.5 139.2v1.3M40.95 227.4v-1.3M40.95 139.2v1.3M42.13 227.4v-1.3M42.13 139.2v1.3M43.13 227.4v-1.3M43.13 139.2v1.3M44 227.4v-1.3M44 139.2v1.3M44.77 227.4v-1.3M44.77 139.2v1.3M45.45 227.4v-2.0M45.45 139.2v2.0M49.95 227.4v-1.3M49.95 139.2v1.3M52.58 227.4v-1.3M52.58 139.2v1.3M54.45 227.4v-1.3M54.45 139.2v1.3M55.9 227.4v-1.3M55.9 139.2v1.3M57.08 227.4v-1.3M57.08 139.2v1.3M58.08 227.4v-1.3M58.08 139.2v1.3M58.95 227.4v-1.3M58.95 139.2v1.3M59.72 227.4v-1.3M59.72 139.2v1.3M60.4 227.4v-2.0M60.4 139.2v2.0M64.9 227.4v-1.3M64.9 139.2v1.3M67.53 227.4v-1.3M67.53 139.2v1.3M69.4 227.4v-1.3M69.4 139.2v1.3M70.85 227.4v-1.3M70.85 139.2v1.3M72.03 227.4v-1.3M72.03 139.2v1.3M73.03 227.4v-1.3M73.03 139.2v1.3M73.9 227.4v-1.3M73.9 139.2v1.3M74.67 227.4v-1.3M74.67 139.2v1.3M75.35 227.4v-2.0M75.35 139.2v2.0M79.85 227.4v-1.3M79.85 139.2v1.3M82.48 227.4v-1.3M82.48 139.2v1.3M84.35 227.4v-1.3M84.35 139.2v1.3M85.8 227.4v-1.3M85.8 139.2v1.3M86.98 227.4v-1.3M86.98 139.2v1.3M87.98 227.4v-1.3M87.98 139.2v1.3M88.85 227.4v-1.3M88.85 139.2v1.3M89.62 227.4v-1.3M89.62 139.2v1.3M90.3 227.4v-2.0M90.3 139.2v2.0M94.8 227.4v-1.3M94.8 139.2v1.3M97.43 227.4v-1.3M97.43 139.2v1.3M99.3 227.4v-1.3M99.3 139.2v1.3M100.75 227.4v-1.3M100.75 139.2v1.3M101.93 227.4v-1.3M101.93 139.2v1.3M102.93 227.4v-1.3M102.93 139.2v1.3M103.8 227.4v-1.3M103.8 139.2v1.3M104.57 227.4v-1.3M104.57 139.2v1.3M105.25 227.4v-2.0M105.25 139.2v2.0M109.75 227.4v-1.3M109.75 139.2v1.3M112.38 227.4v-1.3M112.38 139.2v1.3M114.25 227.4v-1.3M114.25 139.2v1.3M115.7 227.4v-1.3M115.7 139.2v1.3M116.88 227.4v-1.3M116.88 139.2v1.3M117.88 227.4v-1.3M117.88 139.2v1.3M118.75 227.4v-1.3M118.75 139.2v1.3M119.52 227.4v-1.3M119.52 139.2v1.3M120.2 227.4v-2.0M120.2 139.2v2.0M124.7 227.4v-1.3M124.7 139.2v1.3M127.33 227.4v-1.3M127.33 139.2v1.3M129.2 227.4v-1.3M129.2 139.2v1.3M130.65 227.4v-1.3M130.65 139.2v1.3M131.83 227.4v-1.3M131.83 139.2v1.3M132.83 227.4v-1.3M132.83 139.2v1.3M133.7 227.4v-1.3M133.7 139.2v1.3M134.47 227.4v-1.3M134.47 139.2v1.3M135.15 227.4v-2.0M135.15 139.2v2.0M19.2 224.4h1.3M139.3 224.4h-1.3M19.2 222.68h1.3M139.3 222.68h-1.3M19.2 221.46h1.3M139.3 221.46h-1.3M19.2 220.52h1.3M139.3 220.52h-1.3M19.2 219.75h1.3M139.3 219.75h-1.3M19.2 219.09h1.3M139.3 219.09h-1.3M19.2 218.53h1.3M139.3 218.53h-1.3M19.2 218.03h1.3M139.3 218.03h-1.3M19.2 217.58h2.0M139.3 217.58h-2.0M19.2 214.64h1.3M139.3 214.64h-1.3M19.2 212.92h1.3M139.3 212.92h-1.3M19.2 211.7h1.3M139.3 211.7h-1.3M19.2 210.76h1.3M139.3 210.76h-1.3M19.2 209.99h1.3M139.3 209.99h-1.3M19.2 209.33h1.3M139.3 209.33h-1.3M19.2 208.77h1.3M139.3 208.77h-1.3M19.2 208.27h1.3M139.3 208.27h-1.3M19.2 207.82h2.0M139.3 207.82h-2.0M19.2 204.88h1.3M139.3 204.88h-1.3M19.2 203.16h1.3M139.3 203.16h-1.3M19.2 201.94h1.3M139.3 201.94h-1.3M19.2 201h1.3M139.3 201h-1.3M19.2 200.23h1.3M139.3 200.23h-1.3M19.2 199.57h1.3M139.3 199.57h-1.3M19.2 199.01h1.3M139.3 199.01h-1.3M19.2 198.51h1.3M139.3 198.51h-1.3M19.2 198.06h2.0M139.3 198.06h-2.0M19.2 195.12h1.3M139.3 195.12h-1.3M19.2 193.4h1.3M139.3 193.4h-1.3M19.2 192.18h1.3M139.3 192.18h-1.3M19.2 191.24h1.3M139.3 191.24h-1.3M19.2 190.47h1.3M139.3 190.47h-1.3M19.2 189.81h1.3M139.3 189.81h-1.3M19.2 189.25h1.3M139.3 189.25h-1.3M19.2 188.75h1.3M139.3 188.75h-1.3M19.2 188.3h2.0M139.3 188.3h-2.0M19.2 185.36h1.3M139.3 185.36h-1.3M19.2 183.64h1.3M139.3 183.64h-1.3M19.2 182.42h1.3M139.3 182.42h-1.3M19.2 181.48h1.3M139.3 181.48h-1.3M19.2 180.71h1.3M139.3 180.71h-1.3M19.2 180.05h1.3M139.3 180.05h-1.3M19.2 179.49h1.3M139.3 179.49h-1.3M19.2 178.99h1.3M139.3 178.99h-1.3M19.2 178.54h2.0M139.3 178.54h-2.0M19.2 175.6h1.3M139.3 175.6h-1.3M19.2 173.88h1.3M139.3 173.88h-1.3M19.2 172.66h1.3M139.3 172.66h-1.3M19.2 171.72h1.3M139.3 171.72h-1.3M19.2 170.95h1.3M139.3 170.95h-1.3M19.2 170.29h1.3M139.3 170.29h-1.3M19.2 169.73h1.3M139.3 169.73h-1.3M19.2 169.23h1.3M139.3 169.23h-1.3M19.2 168.78h2.0M139.3 168.78h-2.0M19.2 165.84h1.3M139.3 165.84h-1.3M19.2 164.12h1.3M139.3 164.12h-1.3M19.2 162.9h1.3M139.3 162.9h-1.3M19.2 161.96h1.3M139.3 161.96h-1.3M19.2 161.19h1.3M139.3 161.19h-1.3M19.2 160.53h1.3M139.3 160.53h-1.3M19.2 159.97h1.3M139.3 159.97h-1.3M19.2 159.47h1.3M139.3 159.47h-1.3M19.2 159.02h2.0M139.3 159.02h-2.0M19.2 156.08h1.3M139.3 156.08h-1.3M19.2 154.36h1.3M139.3 154.36h-1.3M19.2 153.14h1.3M139.3 153.14h-1.3M19.2 152.2h1.3M139.3 152.2h-1.3M19.2 151.43h1.3M139.3 151.43h-1.3M19.2 150.77h1.3M139.3 150.77h-1.3M19.2 150.21h1.3M139.3 150.21h-1.3M19.2 149.71h1.3M139.3 149.71h-1.3M19.2 149.26h2.0M139.3 149.26h-2.0M19.2 146.32h1.3M139.3 146.32h-1.3M19.2 144.6h1.3M139.3 144.6h-1.3M19.2 143.38h1.3M139.3 143.38h-1.3M19.2 142.44h1.3M139.3 142.44h-1.3M19.2 141.67h1.3M139.3 141.67h-1.3M19.2 141.01h1.3M139.3 141.01h-1.3M19.2 140.45h1.3M139.3 140.45h-1.3M19.2 139.95h1.3M139.3 139.95h-1.3" stroke="#5a5a5a" stroke-width="0.65" fill="none"/>
<g fill="#222" font-family="'Liberation Sans', sans-serif" class="t"><text x="30.8" y="234.78" text-anchor="middle" font-size="5.3">10<tspan font-size="2.86" dy="-3.29">-1</tspan></text><text x="45.75" y="234.78" text-anchor="middle" font-size="5.3">10<tspan font-size="2.86" dy="-3.29">0</tspan></text><text x="60.7" y="234.78" text-anchor="middle" font-size="5.3">10<tspan font-size="2.86" dy="-3.29">1</tspan></text><text x="75.65" y="234.78" text-anchor="middle" font-size="5.3">10<tspan font-size="2.86" dy="-3.29">2</tspan></text><text x="90.6" y="234.78" text-anchor="middle" font-size="5.3">10<tspan font-size="2.86" dy="-3.29">3</tspan></text><text x="105.55" y="234.78" text-anchor="middle" font-size="5.3">10<tspan font-size="2.86" dy="-3.29">4</tspan></text><text x="120.5" y="234.78" text-anchor="middle" font-size="5.3">10<tspan font-size="2.86" dy="-3.29">5</tspan></text><text x="135.45" y="234.78" text-anchor="middle" font-size="5.3">10<tspan font-size="2.86" dy="-3.29">6</tspan></text><text x="17.5" y="141.88" text-anchor="end" font-size="5.3">10<tspan font-size="2.86" dy="-3.29">-5</tspan></text><text x="17.5" y="151.64" text-anchor="end" font-size="5.3">10<tspan font-size="2.86" dy="-3.29">-6</tspan></text><text x="17.5" y="161.41" text-anchor="end" font-size="5.3">10<tspan font-size="2.86" dy="-3.29">-7</tspan></text><text x="17.5" y="171.16" text-anchor="end" font-size="5.3">10<tspan font-size="2.86" dy="-3.29">-8</tspan></text><text x="17.5" y="180.92" text-anchor="end" font-size="5.3">10<tspan font-size="2.86" dy="-3.29">-9</tspan></text><text x="17.5" y="190.69" text-anchor="end" font-size="5.3">10<tspan font-size="2.86" dy="-3.29">-10</tspan></text><text x="17.5" y="200.44" text-anchor="end" font-size="5.3">10<tspan font-size="2.86" dy="-3.29">-11</tspan></text><text x="17.5" y="210.2" text-anchor="end" font-size="5.3">10<tspan font-size="2.86" dy="-3.29">-12</tspan></text><text x="17.5" y="219.96" text-anchor="end" font-size="5.3">10<tspan font-size="2.86" dy="-3.29">-13</tspan></text><text x="17.5" y="229.72" text-anchor="end" font-size="5.3">10<tspan font-size="2.86" dy="-3.29">-14</tspan></text></g>
<text class="b" transform="translate(5.4,185.6) rotate(-90)" text-anchor="middle" font-size="5.8" fill="#111" font-family="'Liberation Sans', sans-serif">Flux(erg cm<tspan font-size="3.71" dy="-2.2">-2</tspan><tspan dy="2.2"> s</tspan><tspan font-size="3.71" dy="-2.2">-1</tspan><tspan dy="2.2">)</tspan></text>
<text class="b" style="" x="79.9" y="244.2" text-anchor="middle" font-size="6" fill="#111" font-family="'Liberation Sans', sans-serif">Time(s)</text>
<text x="133.3" y="146.7" text-anchor="end" font-size="4.5" fill="#111" font-family="'Liberation Sans', sans-serif" class="n">100619A</text>
<path d="M21.1 162.8 L24.3 162.8 L27.5 161.7 L30.1 160.1 L32.2 159.6 L34.3 157.8 L35.9 157.5 L37.5 159.1 L39.1 161.2 L40.7 165.9 L42.2 165.4 L43.8 160.7 L44.9 157.5 L45.9 160.1 L47.0 164.4 L48.6 155.4 L49.6 157.5 L50.7 170.7 L51.2 161.2 L52.3 165.4 L53.3 160.1 L54.4 166.5 L55.4 155.9 L56.5 165.4 L57.6 170.7 L58.3 151.7 L58.9 163.3 L59.7 160.7 L72.9 151.7" stroke="#3030d8" stroke-width="0.9" fill="none" stroke-linejoin="round" stroke-linecap="round" opacity="0.8"/><path d="M48.6 155.4 L50.2 166.0 L51.5 161.0 L52.3 167.0 L53.3 160.0 L54.4 168.0 L55.4 155.9 L56.5 166.0 L57.6 170.7 L58.3 152.5 L58.9 163.3" stroke="#3030d8" stroke-width="1.4" fill="none" stroke-linejoin="round" stroke-linecap="round" opacity="1"/><path d="M73.8 143.2 L74.0 150.0 L73.6 156.0 L74.2 162.0 L74.6 166.9" stroke="#3030d8" stroke-width="2.2" fill="none" stroke-linejoin="round" stroke-linecap="round" opacity="1"/><path d="M74.0 157.4 L74.6 163.0 L75.5 166.9 L76.3 171.6 L77.1 176.4 L78.7 181.1 L81.1 185.1 L84.2 186.6 L86.6 185.8 L88.2 187.4 L89.0 184.3" stroke="#111" stroke-width="1.8" fill="none" stroke-linejoin="round" stroke-linecap="round" opacity="1"/><path d="M90.3 170.5 L90.8 174.0 L91.5 178.0 L92.1 181.1 L92.9 185.8" stroke="#111" stroke-width="2.6" fill="none" stroke-linejoin="round" stroke-linecap="round" opacity="1"/><path d="M100.9 191.4 L101.1 196.5" stroke="#111" stroke-width="1.2" fill="none" stroke-linejoin="round" stroke-linecap="round" opacity="1"/><path d="M102.6 194.0 L103.9 195.2 L105.1 196.5 L106.4 199.0 L107.7 198.4 L108.9 200.9 L110.8 200.9 L112.7 202.2 L115.3 202.8 L117.2 202.8 L119.1 204.1 L120.3 205.3 L121.0 207.2 L121.6 209.1" stroke="#111" stroke-width="2.2" fill="none" stroke-linejoin="round" stroke-linecap="round" opacity="1"/><path d="M101.5 192.0 L102.5 197.0 L104.0 193.5 L105.5 198.0 L107.0 196.5 L108.5 202.0 L110.0 199.5 L111.5 203.0" stroke="#111" stroke-width="1.0" fill="none" stroke-linejoin="round" stroke-linecap="round" opacity="1" stroke-dasharray="1.6 0.7"/><path d="M122.3 211.1h1.2M122.9 210.5v1.2" stroke="#111" stroke-width="0.7" opacity="1"/><path d="M132.4 218.0h1.2M133.0 217.4v1.2" stroke="#111" stroke-width="0.7" opacity="1"/>
<line x1="235.2" y1="139.4" x2="235.2" y2="227.2" stroke="#d05060" stroke-width="1.0" opacity="0.7"/>
<rect x="173.8" y="139.4" width="119" height="87.8" fill="none" stroke="#7a7a7a" stroke-width="0.9"/>
<path d="M179.42 227.5v-1.3M179.42 139.1v1.3M182.59 227.5v-1.3M182.59 139.1v1.3M184.84 227.5v-1.3M184.84 139.1v1.3M186.58 227.5v-1.3M186.58 139.1v1.3M188.01 227.5v-1.3M188.01 139.1v1.3M189.21 227.5v-1.3M189.21 139.1v1.3M190.26 227.5v-1.3M190.26 139.1v1.3M191.18 227.5v-1.3M191.18 139.1v1.3M192 227.5v-2.0M192 139.1v2.0M197.42 227.5v-1.3M197.42 139.1v1.3M200.59 227.5v-1.3M200.59 139.1v1.3M202.84 227.5v-1.3M202.84 139.1v1.3M204.58 227.5v-1.3M204.58 139.1v1.3M206.01 227.5v-1.3M206.01 139.1v1.3M207.21 227.5v-1.3M207.21 139.1v1.3M208.26 227.5v-1.3M208.26 139.1v1.3M209.18 227.5v-1.3M209.18 139.1v1.3M210 227.5v-2.0M210 139.1v2.0M215.42 227.5v-1.3M215.42 139.1v1.3M218.59 227.5v-1.3M218.59 139.1v1.3M220.84 227.5v-1.3M220.84 139.1v1.3M222.58 227.5v-1.3M222.58 139.1v1.3M224.01 227.5v-1.3M224.01 139.1v1.3M225.21 227.5v-1.3M225.21 139.1v1.3M226.26 227.5v-1.3M226.26 139.1v1.3M227.18 227.5v-1.3M227.18 139.1v1.3M228 227.5v-2.0M228 139.1v2.0M233.42 227.5v-1.3M233.42 139.1v1.3M236.59 227.5v-1.3M236.59 139.1v1.3M238.84 227.5v-1.3M238.84 139.1v1.3M240.58 227.5v-1.3M240.58 139.1v1.3M242.01 227.5v-1.3M242.01 139.1v1.3M243.21 227.5v-1.3M243.21 139.1v1.3M244.26 227.5v-1.3M244.26 139.1v1.3M245.18 227.5v-1.3M245.18 139.1v1.3M246 227.5v-2.0M246 139.1v2.0M251.42 227.5v-1.3M251.42 139.1v1.3M254.59 227.5v-1.3M254.59 139.1v1.3M256.84 227.5v-1.3M256.84 139.1v1.3M258.58 227.5v-1.3M258.58 139.1v1.3M260.01 227.5v-1.3M260.01 139.1v1.3M261.21 227.5v-1.3M261.21 139.1v1.3M262.26 227.5v-1.3M262.26 139.1v1.3M263.18 227.5v-1.3M263.18 139.1v1.3M264 227.5v-2.0M264 139.1v2.0M269.42 227.5v-1.3M269.42 139.1v1.3M272.59 227.5v-1.3M272.59 139.1v1.3M274.84 227.5v-1.3M274.84 139.1v1.3M276.58 227.5v-1.3M276.58 139.1v1.3M278.01 227.5v-1.3M278.01 139.1v1.3M279.21 227.5v-1.3M279.21 139.1v1.3M280.26 227.5v-1.3M280.26 139.1v1.3M281.18 227.5v-1.3M281.18 139.1v1.3M282 227.5v-2.0M282 139.1v2.0M287.42 227.5v-1.3M287.42 139.1v1.3M290.59 227.5v-1.3M290.59 139.1v1.3M173.5 226.81h1.3M293.1 226.81h-1.3M173.5 225.49h1.3M293.1 225.49h-1.3M173.5 224.42h1.3M293.1 224.42h-1.3M173.5 223.51h1.3M293.1 223.51h-1.3M173.5 222.72h1.3M293.1 222.72h-1.3M173.5 222.02h1.3M293.1 222.02h-1.3M173.5 221.4h2.0M293.1 221.4h-2.0M173.5 217.31h1.3M293.1 217.31h-1.3M173.5 214.91h1.3M293.1 214.91h-1.3M173.5 213.21h1.3M293.1 213.21h-1.3M173.5 211.89h1.3M293.1 211.89h-1.3M173.5 210.82h1.3M293.1 210.82h-1.3M173.5 209.91h1.3M293.1 209.91h-1.3M173.5 209.12h1.3M293.1 209.12h-1.3M173.5 208.42h1.3M293.1 208.42h-1.3M173.5 207.8h2.0M293.1 207.8h-2.0M173.5 203.71h1.3M293.1 203.71h-1.3M173.5 201.31h1.3M293.1 201.31h-1.3M173.5 199.61h1.3M293.1 199.61h-1.3M173.5 198.29h1.3M293.1 198.29h-1.3M173.5 197.22h1.3M293.1 197.22h-1.3M173.5 196.31h1.3M293.1 196.31h-1.3M173.5 195.52h1.3M293.1 195.52h-1.3M173.5 194.82h1.3M293.1 194.82h-1.3M173.5 194.2h2.0M293.1 194.2h-2.0M173.5 190.11h1.3M293.1 190.11h-1.3M173.5 187.71h1.3M293.1 187.71h-1.3M173.5 186.01h1.3M293.1 186.01h-1.3M173.5 184.69h1.3M293.1 184.69h-1.3M173.5 183.62h1.3M293.1 183.62h-1.3M173.5 182.71h1.3M293.1 182.71h-1.3M173.5 181.92h1.3M293.1 181.92h-1.3M173.5 181.22h1.3M293.1 181.22h-1.3M173.5 180.6h2.0M293.1 180.6h-2.0M173.5 176.51h1.3M293.1 176.51h-1.3M173.5 174.11h1.3M293.1 174.11h-1.3M173.5 172.41h1.3M293.1 172.41h-1.3M173.5 171.09h1.3M293.1 171.09h-1.3M173.5 170.02h1.3M293.1 170.02h-1.3M173.5 169.11h1.3M293.1 169.11h-1.3M173.5 168.32h1.3M293.1 168.32h-1.3M173.5 167.62h1.3M293.1 167.62h-1.3M173.5 167h2.0M293.1 167h-2.0M173.5 162.91h1.3M293.1 162.91h-1.3M173.5 160.51h1.3M293.1 160.51h-1.3M173.5 158.81h1.3M293.1 158.81h-1.3M173.5 157.49h1.3M293.1 157.49h-1.3M173.5 156.42h1.3M293.1 156.42h-1.3M173.5 155.51h1.3M293.1 155.51h-1.3M173.5 154.72h1.3M293.1 154.72h-1.3M173.5 154.02h1.3M293.1 154.02h-1.3M173.5 153.4h2.0M293.1 153.4h-2.0M173.5 149.31h1.3M293.1 149.31h-1.3M173.5 146.91h1.3M293.1 146.91h-1.3M173.5 145.21h1.3M293.1 145.21h-1.3M173.5 143.89h1.3M293.1 143.89h-1.3M173.5 142.82h1.3M293.1 142.82h-1.3M173.5 141.91h1.3M293.1 141.91h-1.3M173.5 141.12h1.3M293.1 141.12h-1.3M173.5 140.42h1.3M293.1 140.42h-1.3M173.5 139.8h2.0M293.1 139.8h-2.0" stroke="#5a5a5a" stroke-width="0.65" fill="none"/>
<g fill="#222" font-family="'Liberation Sans', sans-serif" class="t"><text x="174.3" y="234.88" text-anchor="middle" font-size="5.3">10<tspan font-size="2.86" dy="-3.29">-1</tspan></text><text x="192.3" y="234.88" text-anchor="middle" font-size="5.3">10<tspan font-size="2.86" dy="-3.29">0</tspan></text><text x="210.3" y="234.88" text-anchor="middle" font-size="5.3">10<tspan font-size="2.86" dy="-3.29">1</tspan></text><text x="228.3" y="234.88" text-anchor="middle" font-size="5.3">10<tspan font-size="2.86" dy="-3.29">2</tspan></text><text x="246.3" y="234.88" text-anchor="middle" font-size="5.3">10<tspan font-size="2.86" dy="-3.29">3</tspan></text><text x="264.3" y="234.88" text-anchor="middle" font-size="5.3">10<tspan font-size="2.86" dy="-3.29">4</tspan></text><text x="282.3" y="234.88" text-anchor="middle" font-size="5.3">10<tspan font-size="2.86" dy="-3.29">5</tspan></text><text x="171.8" y="142.19" text-anchor="end" font-size="5.3">10<tspan font-size="2.86" dy="-3.29">-6</tspan></text><text x="171.8" y="155.78" text-anchor="end" font-size="5.3">10<tspan font-size="2.86" dy="-3.29">-7</tspan></text><text x="171.8" y="169.38" text-anchor="end" font-size="5.3">10<tspan font-size="2.86" dy="-3.29">-8</tspan></text><text x="171.8" y="182.99" text-anchor="end" font-size="5.3">10<tspan font-size="2.86" dy="-3.29">-9</tspan></text><text x="171.8" y="196.59" text-anchor="end" font-size="5.3">10<tspan font-size="2.86" dy="-3.29">-10</tspan></text><text x="171.8" y="210.19" text-anchor="end" font-size="5.3">10<tspan font-size="2.86" dy="-3.29">-11</tspan></text><text x="171.8" y="223.78" text-anchor="end" font-size="5.3">10<tspan font-size="2.86" dy="-3.29">-12</tspan></text></g>
<text class="b" transform="translate(159.4,185.9) rotate(-90)" text-anchor="middle" font-size="5.7" fill="#111" font-family="'Liberation Sans', sans-serif">Flux(erg cm<tspan font-size="3.65" dy="-2.17">-2</tspan><tspan dy="2.17"> s</tspan><tspan font-size="3.65" dy="-2.17">-1</tspan><tspan dy="2.17">)</tspan></text>
<text class="b" style="" x="234.1" y="244.2" text-anchor="middle" font-size="6" fill="#111" font-family="'Liberation Sans', sans-serif">Time(s)</text>
<text x="282.2" y="147.3" text-anchor="end" font-size="4.5" fill="#111" font-family="'Liberation Sans', sans-serif" class="n">100727A</text>
<path d="M174.2 156.1H182.0" stroke="#3030d8" stroke-width="0.5" opacity="0.7"/><path d="M176.3 156.1 L180.9 156.1 L184.2 154.8 L187.5 152.8 L189.5 154.8 L191.5 156.1 L193.4 152.2 L195.4 147.6 L196.5 144.3 L197.4 148.9 L198.7 156.1 L199.4 161.4 L200.0 157.5 L201.0 149.5 L201.7 143.6 L203.1 145.6 L204.6 153.5 L206.0 149.5 L207.6 146.3 L208.3 144.9 L209.3 150.9 L210.6 153.5 L211.2 157.5 L212.6 161.4 L213.9 165.4 L215.9 166.7 L217.2 170.6 L218.5 172.6" stroke="#3030d8" stroke-width="1.2" fill="none" stroke-linejoin="round" stroke-linecap="round" opacity="0.8"/><circle cx="180.9" cy="156.1" r="0.8" fill="#3030d8" opacity="1"/><circle cx="187.5" cy="152.8" r="0.8" fill="#3030d8" opacity="1"/><circle cx="191.5" cy="156.1" r="0.8" fill="#3030d8" opacity="1"/><circle cx="196.5" cy="144.3" r="0.8" fill="#3030d8" opacity="1"/><circle cx="199.4" cy="161.4" r="0.8" fill="#3030d8" opacity="1"/><circle cx="201.7" cy="143.6" r="0.8" fill="#3030d8" opacity="1"/><circle cx="204.6" cy="153.5" r="0.8" fill="#3030d8" opacity="1"/><circle cx="208.3" cy="144.9" r="0.8" fill="#3030d8" opacity="1"/><circle cx="211.2" cy="157.5" r="0.8" fill="#3030d8" opacity="1"/><circle cx="215.9" cy="166.7" r="0.8" fill="#3030d8" opacity="1"/><circle cx="218.5" cy="172.6" r="0.8" fill="#3030d8" opacity="1"/><path d="M193.4 152.2 L195.4 147.6 L196.5 144.3 L197.4 148.9 L198.7 156.1 L199.4 161.4" stroke="#3030d8" stroke-width="1.7" fill="none" stroke-linejoin="round" stroke-linecap="round" opacity="1"/><path d="M201.0 149.5 L201.7 143.6 L203.1 145.6 L204.6 153.5 L206.0 149.5 L207.6 146.3" stroke="#3030d8" stroke-width="1.6" fill="none" stroke-linejoin="round" stroke-linecap="round" opacity="1"/><path d="M208.3 144.9 L209.3 150.9 L210.6 153.5 L211.2 157.5 L212.6 161.4 L213.9 165.4 L215.9 166.7 L217.2 170.6" stroke="#3030d8" stroke-width="2.0" fill="none" stroke-linejoin="round" stroke-linecap="round" opacity="1"/><path d="M221.6 170.3 L224.2 175.6 L226.9 180.8 L228.9 184.8 L230.2 188.1" stroke="#111" stroke-width="2.0" fill="none" stroke-linejoin="round" stroke-linecap="round" opacity="1"/><path d="M230.9 191.4h1.2M231.5 190.8v1.2" stroke="#111" stroke-width="0.7" opacity="1"/><path d="M231.6 186.1h1.2M232.2 185.5v1.2" stroke="#111" stroke-width="0.7" opacity="1"/><path d="M234.1 172.3 L235.5 178.2 L236.8 183.5 L238.1 190.7" stroke="#111" stroke-width="1.9" fill="none" stroke-linejoin="round" stroke-linecap="round" opacity="1"/><path d="M238.1 190.7 L238.8 194.7 L239.8 200.0" stroke="#111" stroke-width="0.9" fill="none" stroke-linejoin="round" stroke-linecap="round" opacity="1"/><path d="M239.4 199.8h1.6M240.2 199.0v1.6" stroke="#111" stroke-width="0.9" opacity="1"/><path d="M241.8 207.5 L242.6 206.6 L243.3 208.2" stroke="#111" stroke-width="1.2" fill="none" stroke-linejoin="round" stroke-linecap="round" opacity="1"/><path d="M244.5 209.2 L245.3 210.8 L246.2 209.5 L247.2 208.0 L248.4 208.5 L249.3 209.8" stroke="#111" stroke-width="1.3" fill="none" stroke-linejoin="round" stroke-linecap="round" opacity="1" stroke-dasharray="1.6 0.7"/><circle cx="245.0" cy="211.3" r="0.6" fill="#111" opacity="1"/><circle cx="247.5" cy="210.6" r="0.6" fill="#111" opacity="1"/><path d="M259.3 204.6L260.2 206.5L261.4 210L261.6 213.2L258.3 213L258 209.5Z" fill="#111"/><path d="M263.2 211.9H265.5" stroke="#111" stroke-width="0.5" opacity="0.8"/><path d="M267 209.2L269.2 209.4L271.5 210.8L272.8 212.8L270.5 214L269.6 216.8L268.4 216.5L267.1 213.5Z" fill="#111"/><path d="M273.5 219.4H278.7" stroke="#111" stroke-width="0.5" opacity="0.8"/><path d="M278.0 218.4V221.0" stroke="#111" stroke-width="0.8" opacity="0.9"/><path d="M281.4 218.8 L281.4 221.4" stroke="#111" stroke-width="0.9" fill="none" stroke-linejoin="round" stroke-linecap="round" opacity="1"/><path d="M283.6 218.8 L283.6 221.4" stroke="#111" stroke-width="0.9" fill="none" stroke-linejoin="round" stroke-linecap="round" opacity="1"/>
<line x1="424.7" y1="139.4" x2="424.7" y2="227.2" stroke="#d05060" stroke-width="1.0" opacity="0.7"/>
<rect x="323.4" y="139.4" width="119" height="87.8" fill="none" stroke="#7a7a7a" stroke-width="0.9"/>
<path d="M324.04 227.5v-1.3M324.04 139.1v1.3M325.14 227.5v-1.3M325.14 139.1v1.3M326.1 227.5v-1.3M326.1 139.1v1.3M326.95 227.5v-1.3M326.95 139.1v1.3M327.7 227.5v-2.0M327.7 139.1v2.0M332.67 227.5v-1.3M332.67 139.1v1.3M335.57 227.5v-1.3M335.57 139.1v1.3M337.63 227.5v-1.3M337.63 139.1v1.3M339.23 227.5v-1.3M339.23 139.1v1.3M340.54 227.5v-1.3M340.54 139.1v1.3M341.64 227.5v-1.3M341.64 139.1v1.3M342.6 227.5v-1.3M342.6 139.1v1.3M343.45 227.5v-1.3M343.45 139.1v1.3M344.2 227.5v-2.0M344.2 139.1v2.0M349.17 227.5v-1.3M349.17 139.1v1.3M352.07 227.5v-1.3M352.07 139.1v1.3M354.13 227.5v-1.3M354.13 139.1v1.3M355.73 227.5v-1.3M355.73 139.1v1.3M357.04 227.5v-1.3M357.04 139.1v1.3M358.14 227.5v-1.3M358.14 139.1v1.3M359.1 227.5v-1.3M359.1 139.1v1.3M359.95 227.5v-1.3M359.95 139.1v1.3M360.7 227.5v-2.0M360.7 139.1v2.0M365.67 227.5v-1.3M365.67 139.1v1.3M368.57 227.5v-1.3M368.57 139.1v1.3M370.63 227.5v-1.3M370.63 139.1v1.3M372.23 227.5v-1.3M372.23 139.1v1.3M373.54 227.5v-1.3M373.54 139.1v1.3M374.64 227.5v-1.3M374.64 139.1v1.3M375.6 227.5v-1.3M375.6 139.1v1.3M376.45 227.5v-1.3M376.45 139.1v1.3M377.2 227.5v-2.0M377.2 139.1v2.0M382.17 227.5v-1.3M382.17 139.1v1.3M385.07 227.5v-1.3M385.07 139.1v1.3M387.13 227.5v-1.3M387.13 139.1v1.3M388.73 227.5v-1.3M388.73 139.1v1.3M390.04 227.5v-1.3M390.04 139.1v1.3M391.14 227.5v-1.3M391.14 139.1v1.3M392.1 227.5v-1.3M392.1 139.1v1.3M392.95 227.5v-1.3M392.95 139.1v1.3M393.7 227.5v-2.0M393.7 139.1v2.0M398.67 227.5v-1.3M398.67 139.1v1.3M401.57 227.5v-1.3M401.57 139.1v1.3M403.63 227.5v-1.3M403.63 139.1v1.3M405.23 227.5v-1.3M405.23 139.1v1.3M406.54 227.5v-1.3M406.54 139.1v1.3M407.64 227.5v-1.3M407.64 139.1v1.3M408.6 227.5v-1.3M408.6 139.1v1.3M409.45 227.5v-1.3M409.45 139.1v1.3M410.2 227.5v-2.0M410.2 139.1v2.0M415.17 227.5v-1.3M415.17 139.1v1.3M418.07 227.5v-1.3M418.07 139.1v1.3M420.13 227.5v-1.3M420.13 139.1v1.3M421.73 227.5v-1.3M421.73 139.1v1.3M423.04 227.5v-1.3M423.04 139.1v1.3M424.14 227.5v-1.3M424.14 139.1v1.3M425.1 227.5v-1.3M425.1 139.1v1.3M425.95 227.5v-1.3M425.95 139.1v1.3M426.7 227.5v-2.0M426.7 139.1v2.0M431.67 227.5v-1.3M431.67 139.1v1.3M434.57 227.5v-1.3M434.57 139.1v1.3M436.63 227.5v-1.3M436.63 139.1v1.3M438.23 227.5v-1.3M438.23 139.1v1.3M439.54 227.5v-1.3M439.54 139.1v1.3M440.64 227.5v-1.3M440.64 139.1v1.3M441.6 227.5v-1.3M441.6 139.1v1.3M323.1 226.24h1.3M442.7 226.24h-1.3M323.1 225.63h1.3M442.7 225.63h-1.3M323.1 225.09h1.3M442.7 225.09h-1.3M323.1 224.6h2.0M442.7 224.6h-2.0M323.1 221.41h1.3M442.7 221.41h-1.3M323.1 219.54h1.3M442.7 219.54h-1.3M323.1 218.22h1.3M442.7 218.22h-1.3M323.1 217.19h1.3M442.7 217.19h-1.3M323.1 216.35h1.3M442.7 216.35h-1.3M323.1 215.64h1.3M442.7 215.64h-1.3M323.1 215.03h1.3M442.7 215.03h-1.3M323.1 214.49h1.3M442.7 214.49h-1.3M323.1 214h2.0M442.7 214h-2.0M323.1 210.81h1.3M442.7 210.81h-1.3M323.1 208.94h1.3M442.7 208.94h-1.3M323.1 207.62h1.3M442.7 207.62h-1.3M323.1 206.59h1.3M442.7 206.59h-1.3M323.1 205.75h1.3M442.7 205.75h-1.3M323.1 205.04h1.3M442.7 205.04h-1.3M323.1 204.43h1.3M442.7 204.43h-1.3M323.1 203.89h1.3M442.7 203.89h-1.3M323.1 203.4h2.0M442.7 203.4h-2.0M323.1 200.21h1.3M442.7 200.21h-1.3M323.1 198.34h1.3M442.7 198.34h-1.3M323.1 197.02h1.3M442.7 197.02h-1.3M323.1 195.99h1.3M442.7 195.99h-1.3M323.1 195.15h1.3M442.7 195.15h-1.3M323.1 194.44h1.3M442.7 194.44h-1.3M323.1 193.83h1.3M442.7 193.83h-1.3M323.1 193.29h1.3M442.7 193.29h-1.3M323.1 192.8h2.0M442.7 192.8h-2.0M323.1 189.61h1.3M442.7 189.61h-1.3M323.1 187.74h1.3M442.7 187.74h-1.3M323.1 186.42h1.3M442.7 186.42h-1.3M323.1 185.39h1.3M442.7 185.39h-1.3M323.1 184.55h1.3M442.7 184.55h-1.3M323.1 183.84h1.3M442.7 183.84h-1.3M323.1 183.23h1.3M442.7 183.23h-1.3M323.1 182.69h1.3M442.7 182.69h-1.3M323.1 182.2h2.0M442.7 182.2h-2.0M323.1 179.01h1.3M442.7 179.01h-1.3M323.1 177.14h1.3M442.7 177.14h-1.3M323.1 175.82h1.3M442.7 175.82h-1.3M323.1 174.79h1.3M442.7 174.79h-1.3M323.1 173.95h1.3M442.7 173.95h-1.3M323.1 173.24h1.3M442.7 173.24h-1.3M323.1 172.63h1.3M442.7 172.63h-1.3M323.1 172.09h1.3M442.7 172.09h-1.3M323.1 171.6h2.0M442.7 171.6h-2.0M323.1 168.41h1.3M442.7 168.41h-1.3M323.1 166.54h1.3M442.7 166.54h-1.3M323.1 165.22h1.3M442.7 165.22h-1.3M323.1 164.19h1.3M442.7 164.19h-1.3M323.1 163.35h1.3M442.7 163.35h-1.3M323.1 162.64h1.3M442.7 162.64h-1.3M323.1 162.03h1.3M442.7 162.03h-1.3M323.1 161.49h1.3M442.7 161.49h-1.3M323.1 161h2.0M442.7 161h-2.0M323.1 157.81h1.3M442.7 157.81h-1.3M323.1 155.94h1.3M442.7 155.94h-1.3M323.1 154.62h1.3M442.7 154.62h-1.3M323.1 153.59h1.3M442.7 153.59h-1.3M323.1 152.75h1.3M442.7 152.75h-1.3M323.1 152.04h1.3M442.7 152.04h-1.3M323.1 151.43h1.3M442.7 151.43h-1.3M323.1 150.89h1.3M442.7 150.89h-1.3M323.1 150.4h2.0M442.7 150.4h-2.0M323.1 147.21h1.3M442.7 147.21h-1.3M323.1 145.34h1.3M442.7 145.34h-1.3M323.1 144.02h1.3M442.7 144.02h-1.3M323.1 142.99h1.3M442.7 142.99h-1.3M323.1 142.15h1.3M442.7 142.15h-1.3M323.1 141.44h1.3M442.7 141.44h-1.3M323.1 140.83h1.3M442.7 140.83h-1.3M323.1 140.29h1.3M442.7 140.29h-1.3M323.1 139.8h2.0M442.7 139.8h-2.0" stroke="#5a5a5a" stroke-width="0.65" fill="none"/>
<g fill="#222" font-family="'Liberation Sans', sans-serif" class="t"><text x="328" y="234.88" text-anchor="middle" font-size="5.3">10<tspan font-size="2.86" dy="-3.29">-1</tspan></text><text x="344.5" y="234.88" text-anchor="middle" font-size="5.3">10<tspan font-size="2.86" dy="-3.29">0</tspan></text><text x="361" y="234.88" text-anchor="middle" font-size="5.3">10<tspan font-size="2.86" dy="-3.29">1</tspan></text><text x="377.5" y="234.88" text-anchor="middle" font-size="5.3">10<tspan font-size="2.86" dy="-3.29">2</tspan></text><text x="394" y="234.88" text-anchor="middle" font-size="5.3">10<tspan font-size="2.86" dy="-3.29">3</tspan></text><text x="410.5" y="234.88" text-anchor="middle" font-size="5.3">10<tspan font-size="2.86" dy="-3.29">4</tspan></text><text x="427" y="234.88" text-anchor="middle" font-size="5.3">10<tspan font-size="2.86" dy="-3.29">5</tspan></text><text x="443.5" y="234.88" text-anchor="middle" font-size="5.3">10<tspan font-size="2.86" dy="-3.29">6</tspan></text><text x="321.4" y="142.19" text-anchor="end" font-size="5.3">10<tspan font-size="2.86" dy="-3.29">-6</tspan></text><text x="321.4" y="152.78" text-anchor="end" font-size="5.3">10<tspan font-size="2.86" dy="-3.29">-7</tspan></text><text x="321.4" y="163.38" text-anchor="end" font-size="5.3">10<tspan font-size="2.86" dy="-3.29">-8</tspan></text><text x="321.4" y="173.99" text-anchor="end" font-size="5.3">10<tspan font-size="2.86" dy="-3.29">-9</tspan></text><text x="321.4" y="184.59" text-anchor="end" font-size="5.3">10<tspan font-size="2.86" dy="-3.29">-10</tspan></text><text x="321.4" y="195.19" text-anchor="end" font-size="5.3">10<tspan font-size="2.86" dy="-3.29">-11</tspan></text><text x="321.4" y="205.78" text-anchor="end" font-size="5.3">10<tspan font-size="2.86" dy="-3.29">-12</tspan></text><text x="321.4" y="216.38" text-anchor="end" font-size="5.3">10<tspan font-size="2.86" dy="-3.29">-13</tspan></text><text x="321.4" y="226.99" text-anchor="end" font-size="5.3">10<tspan font-size="2.86" dy="-3.29">-14</tspan></text></g>
<text class="b" transform="translate(307.1,186) rotate(-90)" text-anchor="middle" font-size="5.8" fill="#111" font-family="'Liberation Sans', sans-serif">Flux(erg cm<tspan font-size="3.71" dy="-2.2">-2</tspan><tspan dy="2.2"> s</tspan><tspan font-size="3.71" dy="-2.2">-1</tspan><tspan dy="2.2">)</tspan></text>
<text class="b" style="" x="383.5" y="243.9" text-anchor="middle" font-size="6" fill="#111" font-family="'Liberation Sans', sans-serif">Time(s)</text>
<text x="404.5" y="147.6" text-anchor="middle" font-size="4.6" fill="#111" font-family="'Liberation Serif', serif" class="n">050502B</text>
<text x="404.4" y="156" text-anchor="middle" font-size="4.5" fill="#222" font-family="'Liberation Serif', serif" class="n">α=3.13</text>
<path d="M324.4 161.2H333.9" stroke="#3030d8" stroke-width="0.5" opacity="0.7"/><path d="M328.7 160.8 L331.5 158.4 L334.3 155.2 L335.9 156.0 L336.6 158.0 L337.4 151.7 L338.6 148.1 L339.8 145.7 L340.6 145.3 L341.4 146.9 L342.2 151.7 L343.0 156.4 L343.8 159.6 L344.0 162.8 L344.6 157.2 L345.4 152.9" stroke="#3030d8" stroke-width="1.0" fill="none" stroke-linejoin="round" stroke-linecap="round" opacity="0.8"/><path d="M338.6 148.1 L339.8 145.7 L340.6 145.3 L341.4 146.9" stroke="#3030d8" stroke-width="1.8" fill="none" stroke-linejoin="round" stroke-linecap="round" opacity="1"/><circle cx="328.7" cy="160.8" r="0.7" fill="#3030d8" opacity="1"/><circle cx="334.3" cy="155.2" r="0.7" fill="#3030d8" opacity="1"/><circle cx="336.6" cy="158.0" r="0.7" fill="#3030d8" opacity="1"/><circle cx="343.0" cy="156.4" r="0.7" fill="#3030d8" opacity="1"/><circle cx="344.0" cy="162.8" r="0.7" fill="#3030d8" opacity="1"/><circle cx="345.4" cy="152.9" r="0.7" fill="#3030d8" opacity="1"/><path d="M373.6 189.0H384.6" stroke="#111" stroke-width="0.5" opacity="0.8"/><path d="M377.7 189.0h1.2M378.3 188.4v1.2" stroke="#111" stroke-width="0.7" opacity="1"/><path d="M385.6 186.6h1.2M386.2 186.0v1.2" stroke="#111" stroke-width="0.7" opacity="1"/><path d="M387.8 182.7 L388.6 175.6 L389.4 169.2 L390.7 163.7 L391.3 162.6 L392.2 167.6 L393.3 175.6 L394.1 181.9" stroke="#111" stroke-width="2.2" fill="none" stroke-linejoin="round" stroke-linecap="round" opacity="1"/><path d="M389.8 170.0 L391.0 164.0 L392.5 170.0 L393.0 176.0" stroke="#111" stroke-width="2.2" fill="none" stroke-linejoin="round" stroke-linecap="round" opacity="1"/><path d="M394.1 181.9 L394.9 186.6 L395.7 190.6" stroke="#111" stroke-width="1.0" fill="none" stroke-linejoin="round" stroke-linecap="round" opacity="1"/><path d="M396.7 195.3h1.2M397.3 194.7v1.2" stroke="#111" stroke-width="0.7" opacity="1"/><path d="M406.2 199.3 L407.5 201.6" stroke="#111" stroke-width="1.4" fill="none" stroke-linejoin="round" stroke-linecap="round" opacity="1"/><path d="M410.7 202.4 L411.5 204.0" stroke="#111" stroke-width="1.2" fill="none" stroke-linejoin="round" stroke-linecap="round" opacity="1"/><path d="M413.9 205.5 L414.4 203.8 L415.5 202.7 L416.6 201.6 L417.7 200.5 L419.4 202.2 L421.1 203.3 L422.2 201.6 L423.3 200.5 L424.4 198.9 L424.9 201.1 L425.5 203.3" stroke="#111" stroke-width="1.3" fill="none" stroke-linejoin="round" stroke-linecap="round" opacity="1" stroke-dasharray="1.6 0.7"/><path d="M423.2 201.0 L424.4 199.2 L425.2 202.0" stroke="#111" stroke-width="2.0" fill="none" stroke-linejoin="round" stroke-linecap="round" opacity="1"/><path d="M425.5 205.0 L428.0 209.5 L430.5 214.0 L433.0 218.5 L434.9 222.1" stroke="#3030d8" stroke-width="0.9" fill="none" stroke-linejoin="round" stroke-linecap="round" opacity="0.8"/><path d="M425.5 204.0 L427.0 207.5" stroke="#333" stroke-width="1.4" fill="none" stroke-linejoin="round" stroke-linecap="round" opacity="1"/>
<line x1="577.9" y1="133.6" x2="577.9" y2="221" stroke="#d05060" stroke-width="1.0" opacity="0.7"/>
<rect x="477" y="133.6" width="119.1" height="87.4" fill="none" stroke="#7a7a7a" stroke-width="0.9"/>
<path d="M477.3 221.3v-2.0M477.3 133.3v2.0M481.78 221.3v-1.3M481.78 133.3v1.3M484.4 221.3v-1.3M484.4 133.3v1.3M486.26 221.3v-1.3M486.26 133.3v1.3M487.71 221.3v-1.3M487.71 133.3v1.3M488.89 221.3v-1.3M488.89 133.3v1.3M489.88 221.3v-1.3M489.88 133.3v1.3M490.75 221.3v-1.3M490.75 133.3v1.3M491.51 221.3v-1.3M491.51 133.3v1.3M492.19 221.3v-2.0M492.19 133.3v2.0M496.67 221.3v-1.3M496.67 133.3v1.3M499.29 221.3v-1.3M499.29 133.3v1.3M501.15 221.3v-1.3M501.15 133.3v1.3M502.6 221.3v-1.3M502.6 133.3v1.3M503.78 221.3v-1.3M503.78 133.3v1.3M504.77 221.3v-1.3M504.77 133.3v1.3M505.64 221.3v-1.3M505.64 133.3v1.3M506.4 221.3v-1.3M506.4 133.3v1.3M507.08 221.3v-2.0M507.08 133.3v2.0M511.56 221.3v-1.3M511.56 133.3v1.3M514.18 221.3v-1.3M514.18 133.3v1.3M516.04 221.3v-1.3M516.04 133.3v1.3M517.49 221.3v-1.3M517.49 133.3v1.3M518.67 221.3v-1.3M518.67 133.3v1.3M519.66 221.3v-1.3M519.66 133.3v1.3M520.53 221.3v-1.3M520.53 133.3v1.3M521.29 221.3v-1.3M521.29 133.3v1.3M521.97 221.3v-2.0M521.97 133.3v2.0M526.45 221.3v-1.3M526.45 133.3v1.3M529.07 221.3v-1.3M529.07 133.3v1.3M530.93 221.3v-1.3M530.93 133.3v1.3M532.38 221.3v-1.3M532.38 133.3v1.3M533.56 221.3v-1.3M533.56 133.3v1.3M534.55 221.3v-1.3M534.55 133.3v1.3M535.42 221.3v-1.3M535.42 133.3v1.3M536.18 221.3v-1.3M536.18 133.3v1.3M536.86 221.3v-2.0M536.86 133.3v2.0M541.34 221.3v-1.3M541.34 133.3v1.3M543.96 221.3v-1.3M543.96 133.3v1.3M545.82 221.3v-1.3M545.82 133.3v1.3M547.27 221.3v-1.3M547.27 133.3v1.3M548.45 221.3v-1.3M548.45 133.3v1.3M549.44 221.3v-1.3M549.44 133.3v1.3M550.31 221.3v-1.3M550.31 133.3v1.3M551.07 221.3v-1.3M551.07 133.3v1.3M551.75 221.3v-2.0M551.75 133.3v2.0M556.23 221.3v-1.3M556.23 133.3v1.3M558.85 221.3v-1.3M558.85 133.3v1.3M560.71 221.3v-1.3M560.71 133.3v1.3M562.16 221.3v-1.3M562.16 133.3v1.3M563.34 221.3v-1.3M563.34 133.3v1.3M564.33 221.3v-1.3M564.33 133.3v1.3M565.2 221.3v-1.3M565.2 133.3v1.3M565.96 221.3v-1.3M565.96 133.3v1.3M566.64 221.3v-2.0M566.64 133.3v2.0M571.12 221.3v-1.3M571.12 133.3v1.3M573.74 221.3v-1.3M573.74 133.3v1.3M575.6 221.3v-1.3M575.6 133.3v1.3M577.05 221.3v-1.3M577.05 133.3v1.3M578.23 221.3v-1.3M578.23 133.3v1.3M579.22 221.3v-1.3M579.22 133.3v1.3M580.09 221.3v-1.3M580.09 133.3v1.3M580.85 221.3v-1.3M580.85 133.3v1.3M581.53 221.3v-2.0M581.53 133.3v2.0M586.01 221.3v-1.3M586.01 133.3v1.3M588.63 221.3v-1.3M588.63 133.3v1.3M590.49 221.3v-1.3M590.49 133.3v1.3M591.94 221.3v-1.3M591.94 133.3v1.3M593.12 221.3v-1.3M593.12 133.3v1.3M594.11 221.3v-1.3M594.11 133.3v1.3M594.98 221.3v-1.3M594.98 133.3v1.3M595.74 221.3v-1.3M595.74 133.3v1.3M476.7 220.7h2.0M596.4 220.7h-2.0M476.7 217.78h1.3M596.4 217.78h-1.3M476.7 216.07h1.3M596.4 216.07h-1.3M476.7 214.86h1.3M596.4 214.86h-1.3M476.7 213.92h1.3M596.4 213.92h-1.3M476.7 213.15h1.3M596.4 213.15h-1.3M476.7 212.5h1.3M596.4 212.5h-1.3M476.7 211.94h1.3M596.4 211.94h-1.3M476.7 211.44h1.3M596.4 211.44h-1.3M476.7 211h2.0M596.4 211h-2.0M476.7 208.08h1.3M596.4 208.08h-1.3M476.7 206.37h1.3M596.4 206.37h-1.3M476.7 205.16h1.3M596.4 205.16h-1.3M476.7 204.22h1.3M596.4 204.22h-1.3M476.7 203.45h1.3M596.4 203.45h-1.3M476.7 202.8h1.3M596.4 202.8h-1.3M476.7 202.24h1.3M596.4 202.24h-1.3M476.7 201.74h1.3M596.4 201.74h-1.3M476.7 201.3h2.0M596.4 201.3h-2.0M476.7 198.38h1.3M596.4 198.38h-1.3M476.7 196.67h1.3M596.4 196.67h-1.3M476.7 195.46h1.3M596.4 195.46h-1.3M476.7 194.52h1.3M596.4 194.52h-1.3M476.7 193.75h1.3M596.4 193.75h-1.3M476.7 193.1h1.3M596.4 193.1h-1.3M476.7 192.54h1.3M596.4 192.54h-1.3M476.7 192.04h1.3M596.4 192.04h-1.3M476.7 191.6h2.0M596.4 191.6h-2.0M476.7 188.68h1.3M596.4 188.68h-1.3M476.7 186.97h1.3M596.4 186.97h-1.3M476.7 185.76h1.3M596.4 185.76h-1.3M476.7 184.82h1.3M596.4 184.82h-1.3M476.7 184.05h1.3M596.4 184.05h-1.3M476.7 183.4h1.3M596.4 183.4h-1.3M476.7 182.84h1.3M596.4 182.84h-1.3M476.7 182.34h1.3M596.4 182.34h-1.3M476.7 181.9h2.0M596.4 181.9h-2.0M476.7 178.98h1.3M596.4 178.98h-1.3M476.7 177.27h1.3M596.4 177.27h-1.3M476.7 176.06h1.3M596.4 176.06h-1.3M476.7 175.12h1.3M596.4 175.12h-1.3M476.7 174.35h1.3M596.4 174.35h-1.3M476.7 173.7h1.3M596.4 173.7h-1.3M476.7 173.14h1.3M596.4 173.14h-1.3M476.7 172.64h1.3M596.4 172.64h-1.3M476.7 172.2h2.0M596.4 172.2h-2.0M476.7 169.28h1.3M596.4 169.28h-1.3M476.7 167.57h1.3M596.4 167.57h-1.3M476.7 166.36h1.3M596.4 166.36h-1.3M476.7 165.42h1.3M596.4 165.42h-1.3M476.7 164.65h1.3M596.4 164.65h-1.3M476.7 164h1.3M596.4 164h-1.3M476.7 163.44h1.3M596.4 163.44h-1.3M476.7 162.94h1.3M596.4 162.94h-1.3M476.7 162.5h2.0M596.4 162.5h-2.0M476.7 159.58h1.3M596.4 159.58h-1.3M476.7 157.87h1.3M596.4 157.87h-1.3M476.7 156.66h1.3M596.4 156.66h-1.3M476.7 155.72h1.3M596.4 155.72h-1.3M476.7 154.95h1.3M596.4 154.95h-1.3M476.7 154.3h1.3M596.4 154.3h-1.3M476.7 153.74h1.3M596.4 153.74h-1.3M476.7 153.24h1.3M596.4 153.24h-1.3M476.7 152.8h2.0M596.4 152.8h-2.0M476.7 149.88h1.3M596.4 149.88h-1.3M476.7 148.17h1.3M596.4 148.17h-1.3M476.7 146.96h1.3M596.4 146.96h-1.3M476.7 146.02h1.3M596.4 146.02h-1.3M476.7 145.25h1.3M596.4 145.25h-1.3M476.7 144.6h1.3M596.4 144.6h-1.3M476.7 144.04h1.3M596.4 144.04h-1.3M476.7 143.54h1.3M596.4 143.54h-1.3M476.7 143.1h2.0M596.4 143.1h-2.0M476.7 140.18h1.3M596.4 140.18h-1.3M476.7 138.47h1.3M596.4 138.47h-1.3M476.7 137.26h1.3M596.4 137.26h-1.3M476.7 136.32h1.3M596.4 136.32h-1.3M476.7 135.55h1.3M596.4 135.55h-1.3M476.7 134.9h1.3M596.4 134.9h-1.3M476.7 134.34h1.3M596.4 134.34h-1.3" stroke="#5a5a5a" stroke-width="0.65" fill="none"/>
<g fill="#222" font-family="'Liberation Sans', sans-serif" class="t"><text x="477.6" y="228.69" text-anchor="middle" font-size="5.3">10<tspan font-size="2.86" dy="-3.29">-2</tspan></text><text x="492.49" y="228.69" text-anchor="middle" font-size="5.3">10<tspan font-size="2.86" dy="-3.29">-1</tspan></text><text x="507.38" y="228.69" text-anchor="middle" font-size="5.3">10<tspan font-size="2.86" dy="-3.29">0</tspan></text><text x="522.27" y="228.69" text-anchor="middle" font-size="5.3">10<tspan font-size="2.86" dy="-3.29">1</tspan></text><text x="537.16" y="228.69" text-anchor="middle" font-size="5.3">10<tspan font-size="2.86" dy="-3.29">2</tspan></text><text x="552.05" y="228.69" text-anchor="middle" font-size="5.3">10<tspan font-size="2.86" dy="-3.29">3</tspan></text><text x="566.94" y="228.69" text-anchor="middle" font-size="5.3">10<tspan font-size="2.86" dy="-3.29">4</tspan></text><text x="581.83" y="228.69" text-anchor="middle" font-size="5.3">10<tspan font-size="2.86" dy="-3.29">5</tspan></text><text x="596.72" y="228.69" text-anchor="middle" font-size="5.3">10<tspan font-size="2.86" dy="-3.29">6</tspan></text><text x="475" y="135.78" text-anchor="end" font-size="5.3">10<tspan font-size="2.86" dy="-3.29">-5</tspan></text><text x="475" y="145.48" text-anchor="end" font-size="5.3">10<tspan font-size="2.86" dy="-3.29">-6</tspan></text><text x="475" y="155.19" text-anchor="end" font-size="5.3">10<tspan font-size="2.86" dy="-3.29">-7</tspan></text><text x="475" y="164.88" text-anchor="end" font-size="5.3">10<tspan font-size="2.86" dy="-3.29">-8</tspan></text><text x="475" y="174.58" text-anchor="end" font-size="5.3">10<tspan font-size="2.86" dy="-3.29">-9</tspan></text><text x="475" y="184.28" text-anchor="end" font-size="5.3">10<tspan font-size="2.86" dy="-3.29">-10</tspan></text><text x="475" y="193.98" text-anchor="end" font-size="5.3">10<tspan font-size="2.86" dy="-3.29">-11</tspan></text><text x="475" y="203.69" text-anchor="end" font-size="5.3">10<tspan font-size="2.86" dy="-3.29">-12</tspan></text><text x="475" y="213.38" text-anchor="end" font-size="5.3">10<tspan font-size="2.86" dy="-3.29">-13</tspan></text><text x="475" y="223.08" text-anchor="end" font-size="5.3">10<tspan font-size="2.86" dy="-3.29">-14</tspan></text></g>
<text class="b" transform="translate(462.2,181.5) rotate(-90)" text-anchor="middle" font-size="5.5" fill="#111" font-family="'Liberation Sans', sans-serif">Flux(erg cm<tspan font-size="3.52" dy="-2.09">-2</tspan><tspan dy="2.09"> s</tspan><tspan font-size="3.52" dy="-2.09">-1</tspan><tspan dy="2.09">)</tspan></text>
<text class="b" style="stroke-width:0.35px" x="537.1" y="238.75" text-anchor="middle" font-size="7.4" fill="#111" font-family="'Liberation Sans', sans-serif">Time (s)</text>
<text x="542.4" y="141.7" text-anchor="middle" font-size="4.9" fill="#111" font-family="'Liberation Serif', serif" class="n">050724</text>
<text x="542.5" y="148" text-anchor="middle" font-size="5.2" fill="#222" font-family="'Liberation Serif', serif" class="n">α=3.03</text>
<path d="M478.6 153.1 L482.3 153.1 L486.0 154.2 L489.2 154.4 L492.4 153.1 L494.5 151.0 L496.6 149.4 L498.7 146.8 L500.5 141.5 L502.4 144.7 L504.5 147.3 L506.1 144.7 L507.5 142.0 L509.8 146.8 L512.4 150.0 L527.2 164.2 L530.9 163.7 L534.7 160.3" stroke="#3030d8" stroke-width="0.9" fill="none" stroke-linejoin="round" stroke-linecap="round" opacity="0.8"/><path d="M492.4 153.1 L494.5 151.0 L496.6 149.4 L498.7 146.8" stroke="#3030d8" stroke-width="1.5" fill="none" stroke-linejoin="round" stroke-linecap="round" opacity="1"/><path d="M514.0 164.2H527.2" stroke="#3030d8" stroke-width="0.5" opacity="0.7"/><path d="M507.7 150.0H514.6" stroke="#3030d8" stroke-width="0.5" opacity="0.7"/><path d="M499.2 146.8H504.5" stroke="#3030d8" stroke-width="0.5" opacity="0.7"/><circle cx="482.3" cy="153.1" r="0.6" fill="#3030d8" opacity="1"/><circle cx="486.0" cy="154.2" r="0.6" fill="#3030d8" opacity="1"/><circle cx="500.5" cy="141.5" r="0.6" fill="#3030d8" opacity="1"/><circle cx="504.5" cy="147.3" r="0.6" fill="#3030d8" opacity="1"/><circle cx="507.5" cy="142.0" r="0.6" fill="#3030d8" opacity="1"/><circle cx="512.4" cy="150.0" r="0.6" fill="#3030d8" opacity="1"/><circle cx="527.2" cy="164.2" r="0.6" fill="#3030d8" opacity="1"/><path d="M535.5 159.5 L537.9 162.6 L540.2 165.8 L541.8 169.0 L543.4 172.1 L544.7 176.1" stroke="#111" stroke-width="2.4" fill="none" stroke-linejoin="round" stroke-linecap="round" opacity="1"/><path d="M545.0 179.2 L545.8 183.2 L546.6 187.2" stroke="#111" stroke-width="0.9" fill="none" stroke-linejoin="round" stroke-linecap="round" opacity="1"/><path d="M547.5 190.3h1.3M548.1 189.7v1.3" stroke="#111" stroke-width="0.7" opacity="1"/><path d="M549.9 193.5h1.3M550.5 192.8v1.3" stroke="#111" stroke-width="0.7" opacity="1"/><path d="M552.2 194.3h1.3M552.9 193.7v1.3" stroke="#111" stroke-width="0.7" opacity="1"/><path d="M553.9 192.7h1.3M554.5 192.0v1.3" stroke="#111" stroke-width="0.7" opacity="1"/><path d="M555.4 195.8h1.3M556.0 195.2v1.3" stroke="#111" stroke-width="0.7" opacity="1"/><path d="M556.1 196.6h1.3M556.8 195.9v1.3" stroke="#111" stroke-width="0.7" opacity="1"/><path d="M563.4 203.8h1.2M564.0 203.2v1.2" stroke="#111" stroke-width="0.7" opacity="1"/><path d="M563.5 203.9H570.5" stroke="#111" stroke-width="0.5" opacity="0.8"/><path d="M564.1 203.5h1.2M564.7 202.9v1.2" stroke="#111" stroke-width="0.7" opacity="1"/><path d="M567.3 204.4h1.2M567.9 203.8v1.2" stroke="#111" stroke-width="0.7" opacity="1"/><path d="M573.3 200.0 L575.0 197.9 L576.0 196.2 L577.1 194.6 L578.2 196.2" stroke="#111" stroke-width="1.7" fill="none" stroke-linejoin="round" stroke-linecap="round" opacity="1"/><path d="M578.2 197.9 L581.0 203.0 L584.0 208.5 L586.5 213.0 L588.5 216.3" stroke="#3030d8" stroke-width="0.9" fill="none" stroke-linejoin="round" stroke-linecap="round" opacity="0.8"/>
<line x1="126.8" y1="273.4" x2="126.8" y2="360.8" stroke="#d05060" stroke-width="1.0" opacity="0.7"/>
<rect x="19.8" y="273.4" width="119.4" height="87.4" fill="none" stroke="#7a7a7a" stroke-width="0.9"/>
<path d="M20.3 361.1v-1.3M20.3 273.1v1.3M23.57 361.1v-1.3M23.57 273.1v1.3M26.11 361.1v-1.3M26.11 273.1v1.3M28.19 361.1v-1.3M28.19 273.1v1.3M29.94 361.1v-1.3M29.94 273.1v1.3M31.46 361.1v-1.3M31.46 273.1v1.3M32.8 361.1v-1.3M32.8 273.1v1.3M34 361.1v-2.0M34 273.1v2.0M41.89 361.1v-1.3M41.89 273.1v1.3M46.5 361.1v-1.3M46.5 273.1v1.3M49.77 361.1v-1.3M49.77 273.1v1.3M52.31 361.1v-1.3M52.31 273.1v1.3M54.39 361.1v-1.3M54.39 273.1v1.3M56.14 361.1v-1.3M56.14 273.1v1.3M57.66 361.1v-1.3M57.66 273.1v1.3M59 361.1v-1.3M59 273.1v1.3M60.2 361.1v-2.0M60.2 273.1v2.0M68.09 361.1v-1.3M68.09 273.1v1.3M72.7 361.1v-1.3M72.7 273.1v1.3M75.97 361.1v-1.3M75.97 273.1v1.3M78.51 361.1v-1.3M78.51 273.1v1.3M80.59 361.1v-1.3M80.59 273.1v1.3M82.34 361.1v-1.3M82.34 273.1v1.3M83.86 361.1v-1.3M83.86 273.1v1.3M85.2 361.1v-1.3M85.2 273.1v1.3M86.4 361.1v-2.0M86.4 273.1v2.0M94.29 361.1v-1.3M94.29 273.1v1.3M98.9 361.1v-1.3M98.9 273.1v1.3M102.17 361.1v-1.3M102.17 273.1v1.3M104.71 361.1v-1.3M104.71 273.1v1.3M106.79 361.1v-1.3M106.79 273.1v1.3M108.54 361.1v-1.3M108.54 273.1v1.3M110.06 361.1v-1.3M110.06 273.1v1.3M111.4 361.1v-1.3M111.4 273.1v1.3M112.6 361.1v-2.0M112.6 273.1v2.0M120.49 361.1v-1.3M120.49 273.1v1.3M125.1 361.1v-1.3M125.1 273.1v1.3M128.37 361.1v-1.3M128.37 273.1v1.3M130.91 361.1v-1.3M130.91 273.1v1.3M132.99 361.1v-1.3M132.99 273.1v1.3M134.74 361.1v-1.3M134.74 273.1v1.3M136.26 361.1v-1.3M136.26 273.1v1.3M137.6 361.1v-1.3M137.6 273.1v1.3M138.8 361.1v-2.0M138.8 273.1v2.0M19.5 356.52h1.3M139.5 356.52h-1.3M19.5 354.07h1.3M139.5 354.07h-1.3M19.5 352.33h1.3M139.5 352.33h-1.3M19.5 350.98h1.3M139.5 350.98h-1.3M19.5 349.88h1.3M139.5 349.88h-1.3M19.5 348.95h1.3M139.5 348.95h-1.3M19.5 348.15h1.3M139.5 348.15h-1.3M19.5 347.44h1.3M139.5 347.44h-1.3M19.5 346.8h2.0M139.5 346.8h-2.0M19.5 342.62h1.3M139.5 342.62h-1.3M19.5 340.17h1.3M139.5 340.17h-1.3M19.5 338.43h1.3M139.5 338.43h-1.3M19.5 337.08h1.3M139.5 337.08h-1.3M19.5 335.98h1.3M139.5 335.98h-1.3M19.5 335.05h1.3M139.5 335.05h-1.3M19.5 334.25h1.3M139.5 334.25h-1.3M19.5 333.54h1.3M139.5 333.54h-1.3M19.5 332.9h2.0M139.5 332.9h-2.0M19.5 328.72h1.3M139.5 328.72h-1.3M19.5 326.27h1.3M139.5 326.27h-1.3M19.5 324.53h1.3M139.5 324.53h-1.3M19.5 323.18h1.3M139.5 323.18h-1.3M19.5 322.08h1.3M139.5 322.08h-1.3M19.5 321.15h1.3M139.5 321.15h-1.3M19.5 320.35h1.3M139.5 320.35h-1.3M19.5 319.64h1.3M139.5 319.64h-1.3M19.5 319h2.0M139.5 319h-2.0M19.5 314.82h1.3M139.5 314.82h-1.3M19.5 312.37h1.3M139.5 312.37h-1.3M19.5 310.63h1.3M139.5 310.63h-1.3M19.5 309.28h1.3M139.5 309.28h-1.3M19.5 308.18h1.3M139.5 308.18h-1.3M19.5 307.25h1.3M139.5 307.25h-1.3M19.5 306.45h1.3M139.5 306.45h-1.3M19.5 305.74h1.3M139.5 305.74h-1.3M19.5 305.1h2.0M139.5 305.1h-2.0M19.5 300.92h1.3M139.5 300.92h-1.3M19.5 298.47h1.3M139.5 298.47h-1.3M19.5 296.73h1.3M139.5 296.73h-1.3M19.5 295.38h1.3M139.5 295.38h-1.3M19.5 294.28h1.3M139.5 294.28h-1.3M19.5 293.35h1.3M139.5 293.35h-1.3M19.5 292.55h1.3M139.5 292.55h-1.3M19.5 291.84h1.3M139.5 291.84h-1.3M19.5 291.2h2.0M139.5 291.2h-2.0M19.5 287.02h1.3M139.5 287.02h-1.3M19.5 284.57h1.3M139.5 284.57h-1.3M19.5 282.83h1.3M139.5 282.83h-1.3M19.5 281.48h1.3M139.5 281.48h-1.3M19.5 280.38h1.3M139.5 280.38h-1.3M19.5 279.45h1.3M139.5 279.45h-1.3M19.5 278.65h1.3M139.5 278.65h-1.3M19.5 277.94h1.3M139.5 277.94h-1.3M19.5 277.3h2.0M139.5 277.3h-2.0" stroke="#5a5a5a" stroke-width="0.65" fill="none"/>
<g fill="#222" font-family="'Liberation Sans', sans-serif" class="t"><text x="34.3" y="368.49" text-anchor="middle" font-size="5.3">10<tspan font-size="2.86" dy="-3.29">1</tspan></text><text x="60.5" y="368.49" text-anchor="middle" font-size="5.3">10<tspan font-size="2.86" dy="-3.29">2</tspan></text><text x="86.7" y="368.49" text-anchor="middle" font-size="5.3">10<tspan font-size="2.86" dy="-3.29">3</tspan></text><text x="112.9" y="368.49" text-anchor="middle" font-size="5.3">10<tspan font-size="2.86" dy="-3.29">4</tspan></text><text x="139.1" y="368.49" text-anchor="middle" font-size="5.3">10<tspan font-size="2.86" dy="-3.29">5</tspan></text><text x="17.8" y="279.69" text-anchor="end" font-size="5.3">10<tspan font-size="2.86" dy="-3.29">-7</tspan></text><text x="17.8" y="293.58" text-anchor="end" font-size="5.3">10<tspan font-size="2.86" dy="-3.29">-8</tspan></text><text x="17.8" y="307.49" text-anchor="end" font-size="5.3">10<tspan font-size="2.86" dy="-3.29">-9</tspan></text><text x="17.8" y="321.38" text-anchor="end" font-size="5.3">10<tspan font-size="2.86" dy="-3.29">-10</tspan></text><text x="17.8" y="335.29" text-anchor="end" font-size="5.3">10<tspan font-size="2.86" dy="-3.29">-11</tspan></text><text x="17.8" y="349.19" text-anchor="end" font-size="5.3">10<tspan font-size="2.86" dy="-3.29">-12</tspan></text><text x="17.8" y="363.09" text-anchor="end" font-size="5.3">10<tspan font-size="2.86" dy="-3.29">-13</tspan></text></g>
<text class="b" transform="translate(5.1,320) rotate(-90)" text-anchor="middle" font-size="5.8" fill="#111" font-family="'Liberation Sans', sans-serif">Flux(erg cm<tspan font-size="3.71" dy="-2.2">-2</tspan><tspan dy="2.2"> s</tspan><tspan font-size="3.71" dy="-2.2">-1</tspan><tspan dy="2.2">)</tspan></text>
<text class="b" style="" x="79.8" y="377.8" text-anchor="middle" font-size="6" fill="#111" font-family="'Liberation Sans', sans-serif">Time(s)</text>
<text x="104.4" y="281.3" text-anchor="middle" font-size="5.7" fill="#111" font-family="'Liberation Sans', sans-serif" class="n">050904</text>
<text x="103.7" y="288.5" text-anchor="middle" font-size="4.8" fill="#222" font-family="'Liberation Sans', sans-serif" class="n">α=9.09</text>
<path d="M20.3 301.3H28.0" stroke="#3030d8" stroke-width="0.5" opacity="0.7"/><path d="M24.3 301.3 L29.6 300.7 L33.8 300.3 L37.5 299.4 L40.1 297.8 L42.8 296.5 L44.4 294.7 L45.4 291.5 L46.3 295.2 L47.0 292.5 L48.0 297.3 L49.6 295.2 L51.7 293.1 L52.8 295.7 L54.4 293.6 L55.4 286.7 L56.2 294.1 L57.6 296.2 L58.3 288.8 L59.1 292.5 L59.7 297.3 L60.4 298.9 L61.0 304.7 L61.8 296.2 L62.3 278.3 L62.8 289.9 L63.4 304.7 L63.9 283.6 L64.6 292.0 L65.5 284.6 L66.3 295.2 L67.6 283.6 L68.6 294.1 L69.7 287.8 L71.3 281.5 L72.3 279.3" stroke="#3030d8" stroke-width="0.9" fill="none" stroke-linejoin="round" stroke-linecap="round" opacity="0.8"/><path d="M60.4 298.9 L61.0 304.7 L61.8 296.2 L62.3 284.0 L62.8 292.0 L63.4 304.7 L63.9 286.0 L64.6 296.0 L65.5 286.0 L66.3 296.0 L67.6 286.0 L68.6 294.0" stroke="#3030d8" stroke-width="1.6" fill="none" stroke-linejoin="round" stroke-linecap="round" opacity="1"/><path d="M65.5 295.3 L67.9 299.2 L70.3 301.6 L72.7 304.0 L75.0 304.0 L76.6 302.4 L77.4 299.2" stroke="#111" stroke-width="3.0" fill="none" stroke-linejoin="round" stroke-linecap="round" opacity="1"/><path d="M78.2 300.0 L79.0 305.6 L79.8 311.1 L80.6 314.3 L82.9 315.9 L84.5 318.2 L86.1 319.8 L87.7 319.0 L89.3 323.0 L90.9 325.3 L92.4 328.5 L93.2 330.1" stroke="#111" stroke-width="1.3" fill="none" stroke-linejoin="round" stroke-linecap="round" opacity="1" stroke-dasharray="1.6 0.7"/><path d="M108.3 318.4 L108.6 320.5 L108.9 323.5" stroke="#111" stroke-width="2.6" fill="none" stroke-linejoin="round" stroke-linecap="round" opacity="1"/><path d="M105.6 330.4 L105.9 334.8" stroke="#111" stroke-width="2.4" fill="none" stroke-linejoin="round" stroke-linecap="round" opacity="1"/><path d="M114.6 325.5 L114.9 328.5 L115.2 331.5" stroke="#111" stroke-width="2.4" fill="none" stroke-linejoin="round" stroke-linecap="round" opacity="1"/><path d="M113.6 337.5 L113.8 343.7" stroke="#111" stroke-width="1.1" fill="none" stroke-linejoin="round" stroke-linecap="round" opacity="1"/><path d="M119.1 320.8 L119.3 324.5 L119.5 328.5" stroke="#111" stroke-width="2.8" fill="none" stroke-linejoin="round" stroke-linecap="round" opacity="1"/><path d="M122.7 328.2 L123.0 335.5" stroke="#111" stroke-width="2.3" fill="none" stroke-linejoin="round" stroke-linecap="round" opacity="1"/><path d="M124.8 325.5 L125.5 332.0 L126.3 338.0" stroke="#111" stroke-width="2.3" fill="none" stroke-linejoin="round" stroke-linecap="round" opacity="1"/><path d="M126.5 327.3 L128.1 332.1 L129.7 336.9 L130.5 345.8 L132.9 353.0" stroke="#3030d8" stroke-width="1.0" fill="none" stroke-linejoin="round" stroke-linecap="round" opacity="0.8"/>
<line x1="265.1" y1="273.4" x2="265.1" y2="360.8" stroke="#d05060" stroke-width="1.0" opacity="0.7"/>
<rect x="173.4" y="273.4" width="119" height="87.4" fill="none" stroke="#7a7a7a" stroke-width="0.9"/>
<path d="M181.79 361.1v-1.3M181.79 273.1v1.3M186.58 361.1v-1.3M186.58 273.1v1.3M189.98 361.1v-1.3M189.98 273.1v1.3M192.61 361.1v-1.3M192.61 273.1v1.3M194.77 361.1v-1.3M194.77 273.1v1.3M196.59 361.1v-1.3M196.59 273.1v1.3M198.16 361.1v-1.3M198.16 273.1v1.3M199.56 361.1v-1.3M199.56 273.1v1.3M200.8 361.1v-2.0M200.8 273.1v2.0M208.99 361.1v-1.3M208.99 273.1v1.3M213.78 361.1v-1.3M213.78 273.1v1.3M217.18 361.1v-1.3M217.18 273.1v1.3M219.81 361.1v-1.3M219.81 273.1v1.3M221.97 361.1v-1.3M221.97 273.1v1.3M223.79 361.1v-1.3M223.79 273.1v1.3M225.36 361.1v-1.3M225.36 273.1v1.3M226.76 361.1v-1.3M226.76 273.1v1.3M228 361.1v-2.0M228 273.1v2.0M236.19 361.1v-1.3M236.19 273.1v1.3M240.98 361.1v-1.3M240.98 273.1v1.3M244.38 361.1v-1.3M244.38 273.1v1.3M247.01 361.1v-1.3M247.01 273.1v1.3M249.17 361.1v-1.3M249.17 273.1v1.3M250.99 361.1v-1.3M250.99 273.1v1.3M252.56 361.1v-1.3M252.56 273.1v1.3M253.96 361.1v-1.3M253.96 273.1v1.3M255.2 361.1v-2.0M255.2 273.1v2.0M263.39 361.1v-1.3M263.39 273.1v1.3M268.18 361.1v-1.3M268.18 273.1v1.3M271.58 361.1v-1.3M271.58 273.1v1.3M274.21 361.1v-1.3M274.21 273.1v1.3M276.37 361.1v-1.3M276.37 273.1v1.3M278.19 361.1v-1.3M278.19 273.1v1.3M279.76 361.1v-1.3M279.76 273.1v1.3M281.16 361.1v-1.3M281.16 273.1v1.3M282.4 361.1v-2.0M282.4 273.1v2.0M290.59 361.1v-1.3M290.59 273.1v1.3M173.1 360.5h2.0M292.7 360.5h-2.0M173.1 357.49h1.3M292.7 357.49h-1.3M173.1 355.73h1.3M292.7 355.73h-1.3M173.1 354.48h1.3M292.7 354.48h-1.3M173.1 353.51h1.3M292.7 353.51h-1.3M173.1 352.72h1.3M292.7 352.72h-1.3M173.1 352.05h1.3M292.7 352.05h-1.3M173.1 351.47h1.3M292.7 351.47h-1.3M173.1 350.96h1.3M292.7 350.96h-1.3M173.1 350.5h2.0M292.7 350.5h-2.0M173.1 347.49h1.3M292.7 347.49h-1.3M173.1 345.73h1.3M292.7 345.73h-1.3M173.1 344.48h1.3M292.7 344.48h-1.3M173.1 343.51h1.3M292.7 343.51h-1.3M173.1 342.72h1.3M292.7 342.72h-1.3M173.1 342.05h1.3M292.7 342.05h-1.3M173.1 341.47h1.3M292.7 341.47h-1.3M173.1 340.96h1.3M292.7 340.96h-1.3M173.1 340.5h2.0M292.7 340.5h-2.0M173.1 337.49h1.3M292.7 337.49h-1.3M173.1 335.73h1.3M292.7 335.73h-1.3M173.1 334.48h1.3M292.7 334.48h-1.3M173.1 333.51h1.3M292.7 333.51h-1.3M173.1 332.72h1.3M292.7 332.72h-1.3M173.1 332.05h1.3M292.7 332.05h-1.3M173.1 331.47h1.3M292.7 331.47h-1.3M173.1 330.96h1.3M292.7 330.96h-1.3M173.1 330.5h2.0M292.7 330.5h-2.0M173.1 327.49h1.3M292.7 327.49h-1.3M173.1 325.73h1.3M292.7 325.73h-1.3M173.1 324.48h1.3M292.7 324.48h-1.3M173.1 323.51h1.3M292.7 323.51h-1.3M173.1 322.72h1.3M292.7 322.72h-1.3M173.1 322.05h1.3M292.7 322.05h-1.3M173.1 321.47h1.3M292.7 321.47h-1.3M173.1 320.96h1.3M292.7 320.96h-1.3M173.1 320.5h2.0M292.7 320.5h-2.0M173.1 317.49h1.3M292.7 317.49h-1.3M173.1 315.73h1.3M292.7 315.73h-1.3M173.1 314.48h1.3M292.7 314.48h-1.3M173.1 313.51h1.3M292.7 313.51h-1.3M173.1 312.72h1.3M292.7 312.72h-1.3M173.1 312.05h1.3M292.7 312.05h-1.3M173.1 311.47h1.3M292.7 311.47h-1.3M173.1 310.96h1.3M292.7 310.96h-1.3M173.1 310.5h2.0M292.7 310.5h-2.0M173.1 307.49h1.3M292.7 307.49h-1.3M173.1 305.73h1.3M292.7 305.73h-1.3M173.1 304.48h1.3M292.7 304.48h-1.3M173.1 303.51h1.3M292.7 303.51h-1.3M173.1 302.72h1.3M292.7 302.72h-1.3M173.1 302.05h1.3M292.7 302.05h-1.3M173.1 301.47h1.3M292.7 301.47h-1.3M173.1 300.96h1.3M292.7 300.96h-1.3M173.1 300.5h2.0M292.7 300.5h-2.0M173.1 297.49h1.3M292.7 297.49h-1.3M173.1 295.73h1.3M292.7 295.73h-1.3M173.1 294.48h1.3M292.7 294.48h-1.3M173.1 293.51h1.3M292.7 293.51h-1.3M173.1 292.72h1.3M292.7 292.72h-1.3M173.1 292.05h1.3M292.7 292.05h-1.3M173.1 291.47h1.3M292.7 291.47h-1.3M173.1 290.96h1.3M292.7 290.96h-1.3M173.1 290.5h2.0M292.7 290.5h-2.0M173.1 287.49h1.3M292.7 287.49h-1.3M173.1 285.73h1.3M292.7 285.73h-1.3M173.1 284.48h1.3M292.7 284.48h-1.3M173.1 283.51h1.3M292.7 283.51h-1.3M173.1 282.72h1.3M292.7 282.72h-1.3M173.1 282.05h1.3M292.7 282.05h-1.3M173.1 281.47h1.3M292.7 281.47h-1.3M173.1 280.96h1.3M292.7 280.96h-1.3M173.1 280.5h2.0M292.7 280.5h-2.0M173.1 277.49h1.3M292.7 277.49h-1.3M173.1 275.73h1.3M292.7 275.73h-1.3M173.1 274.48h1.3M292.7 274.48h-1.3" stroke="#5a5a5a" stroke-width="0.65" fill="none"/>
<g fill="#222" font-family="'Liberation Sans', sans-serif" class="t"><text x="173.9" y="368.49" text-anchor="middle" font-size="5.3">10<tspan font-size="2.86" dy="-3.29">1</tspan></text><text x="201.1" y="368.49" text-anchor="middle" font-size="5.3">10<tspan font-size="2.86" dy="-3.29">2</tspan></text><text x="228.3" y="368.49" text-anchor="middle" font-size="5.3">10<tspan font-size="2.86" dy="-3.29">3</tspan></text><text x="255.5" y="368.49" text-anchor="middle" font-size="5.3">10<tspan font-size="2.86" dy="-3.29">4</tspan></text><text x="282.7" y="368.49" text-anchor="middle" font-size="5.3">10<tspan font-size="2.86" dy="-3.29">5</tspan></text><text x="171.4" y="282.88" text-anchor="end" font-size="5.3">10<tspan font-size="2.86" dy="-3.29">-6</tspan></text><text x="171.4" y="292.88" text-anchor="end" font-size="5.3">10<tspan font-size="2.86" dy="-3.29">-7</tspan></text><text x="171.4" y="302.88" text-anchor="end" font-size="5.3">10<tspan font-size="2.86" dy="-3.29">-8</tspan></text><text x="171.4" y="312.88" text-anchor="end" font-size="5.3">10<tspan font-size="2.86" dy="-3.29">-9</tspan></text><text x="171.4" y="322.88" text-anchor="end" font-size="5.3">10<tspan font-size="2.86" dy="-3.29">-10</tspan></text><text x="171.4" y="332.88" text-anchor="end" font-size="5.3">10<tspan font-size="2.86" dy="-3.29">-11</tspan></text><text x="171.4" y="342.88" text-anchor="end" font-size="5.3">10<tspan font-size="2.86" dy="-3.29">-12</tspan></text><text x="171.4" y="352.88" text-anchor="end" font-size="5.3">10<tspan font-size="2.86" dy="-3.29">-13</tspan></text><text x="171.4" y="362.88" text-anchor="end" font-size="5.3">10<tspan font-size="2.86" dy="-3.29">-14</tspan></text></g>
<text class="b" transform="translate(158.6,320) rotate(-90)" text-anchor="middle" font-size="5.8" fill="#111" font-family="'Liberation Sans', sans-serif">Flux(erg cm<tspan font-size="3.71" dy="-2.2">-2</tspan><tspan dy="2.2"> s</tspan><tspan font-size="3.71" dy="-2.2">-1</tspan><tspan dy="2.2">)</tspan></text>
<text class="b" style="" x="233.5" y="377.5" text-anchor="middle" font-size="6" fill="#111" font-family="'Liberation Sans', sans-serif">Time(s)</text>
<text x="243.3" y="284.3" text-anchor="middle" font-size="5.8" fill="#111" font-family="'Liberation Sans', sans-serif" class="n">050916</text>
<text x="242.5" y="291.1" text-anchor="middle" font-size="5.2" fill="#222" font-family="'Liberation Serif', serif" class="n">α=3.71</text>
<path d="M184.0 297.9 L187.7 308.5 L190.4 295.9 L191.6 287.2 L193.1 281.6 L198.8 310.4" stroke="#3030d8" stroke-width="0.9" fill="none" stroke-linejoin="round" stroke-linecap="round" opacity="0.8"/><path d="M185.3 308.5H189.8" stroke="#3030d8" stroke-width="0.5" opacity="0.8"/><path d="M194.4 310.4H201.4" stroke="#3030d8" stroke-width="0.5" opacity="0.8"/><circle cx="184.0" cy="297.9" r="0.7" fill="#3030d8" opacity="1"/><circle cx="187.7" cy="308.5" r="0.7" fill="#3030d8" opacity="1"/><circle cx="190.4" cy="295.9" r="0.7" fill="#3030d8" opacity="1"/><circle cx="191.6" cy="287.2" r="0.7" fill="#3030d8" opacity="1"/><circle cx="198.8" cy="310.4" r="0.7" fill="#3030d8" opacity="1"/><path d="M191.9 280.6h2.6l-1.3 2.2z" fill="#3030d8"/><path d="M210.8 322.8h1.5M211.6 322.1v1.5" stroke="#111" stroke-width="0.6" opacity="1"/><path d="M213.9 326.0h1.5M214.7 325.2v1.5" stroke="#111" stroke-width="0.6" opacity="1"/><path d="M216.7 326.8h1.5M217.4 326.1v1.5" stroke="#111" stroke-width="0.6" opacity="1"/><path d="M219.4 327.9h1.5M220.2 327.1v1.5" stroke="#111" stroke-width="0.6" opacity="1"/><path d="M222.2 330.0h1.5M222.9 329.2v1.5" stroke="#111" stroke-width="0.6" opacity="1"/><path d="M212.0 327.0H224.5" stroke="#111" stroke-width="0.4" opacity="0.7"/><path d="M248.6 334.4 L249.6 336.2 L250.6 334.8 L251.8 336.6" stroke="#111" stroke-width="1.3" fill="none" stroke-linejoin="round" stroke-linecap="round" opacity="1" stroke-dasharray="1.6 0.7"/><path d="M256.9 338.9h1.2M257.5 338.3v1.2" stroke="#111" stroke-width="0.7" opacity="1"/><path d="M258.9 338.2h1.2M259.5 337.6v1.2" stroke="#111" stroke-width="0.7" opacity="1"/><path d="M260.9 336.9h1.2M261.5 336.3v1.2" stroke="#111" stroke-width="0.7" opacity="1"/><path d="M263.2 335.5 L263.9 322.0 L264.5 320.8 L264.9 332.9" stroke="#111" stroke-width="0.8" fill="none" stroke-linejoin="round" stroke-linecap="round" opacity="1" stroke-dasharray="1.6 0.7"/><path d="M265.3 325.0 L266.2 328.0 L267.0 331.5" stroke="#111" stroke-width="1.7" fill="none" stroke-linejoin="round" stroke-linecap="round" opacity="1"/><path d="M269.6 341.0 L270.5 339.8 L272.3 339.6" stroke="#111" stroke-width="0.9" fill="none" stroke-linejoin="round" stroke-linecap="round" opacity="1"/><path d="M270.3 335.6 L275.0 342.0 L280.0 348.8 L284.4 353.3 L288.4 360.4" stroke="#3030d8" stroke-width="1.0" fill="none" stroke-linejoin="round" stroke-linecap="round" opacity="0.8"/><path d="M273.0 353.3H291.8" stroke="#555" stroke-width="0.5" opacity="0.8"/>
</svg></body></html>
